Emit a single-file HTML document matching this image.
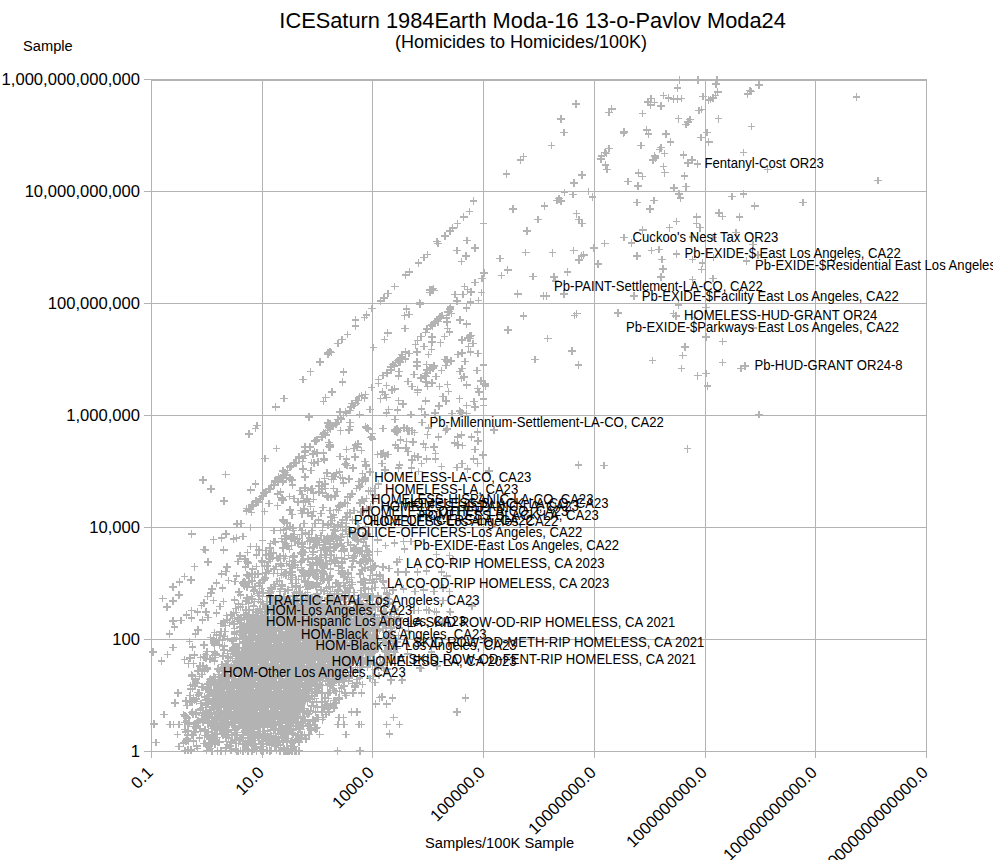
<!DOCTYPE html>
<html><head><meta charset="utf-8"><style>
html,body{margin:0;padding:0;background:#fff;overflow:hidden}
svg{display:block;font-family:"Liberation Sans",sans-serif}
</style></head><body>
<svg width="993" height="860" viewBox="0 0 993 860">
<rect width="993" height="860" fill="#fff"/>
<rect x="151" y="79" width="1" height="679" fill="#b3b3b3"/><rect x="262" y="79" width="1" height="679" fill="#b3b3b3"/><rect x="372" y="79" width="1" height="679" fill="#b3b3b3"/><rect x="483" y="79" width="1" height="679" fill="#b3b3b3"/><rect x="594" y="79" width="1" height="679" fill="#b3b3b3"/><rect x="705" y="79" width="1" height="679" fill="#b3b3b3"/><rect x="815" y="79" width="1" height="679" fill="#b3b3b3"/><rect x="926" y="79" width="1" height="679" fill="#b3b3b3"/><rect x="144" y="79" width="783" height="1" fill="#b3b3b3"/><rect x="144" y="191" width="783" height="1" fill="#b3b3b3"/><rect x="144" y="303" width="783" height="1" fill="#b3b3b3"/><rect x="144" y="415" width="783" height="1" fill="#b3b3b3"/><rect x="144" y="527" width="783" height="1" fill="#b3b3b3"/><rect x="144" y="639" width="783" height="1" fill="#b3b3b3"/><rect x="144" y="751" width="783" height="1" fill="#b3b3b3"/><rect x="151" y="79" width="776" height="2" fill="#b3b3b3"/>
<path d="M502.5 173.8h7.6M506.3 170.0v7.6M516.7 159.8h7.6M520.5 156.0v7.6M519.6 156.6h7.6M523.4 152.8v7.6M547.7 145.3h7.6M551.5 141.5v7.6M572.0 104.2h7.6M575.8 100.4v7.6M557.2 119.0h7.6M561.0 115.2v7.6M560.4 132.4h7.6M564.2 128.6v7.6M578.4 174.8h7.6M582.2 171.0v7.6M570.0 183.2h7.6M573.8 179.4v7.6M675.9 79.7h7.6M679.7 75.9v7.6M694.4 79.7h7.6M698.2 75.9v7.6M673.5 88.1h7.6M677.3 84.3v7.6M647.4 98.6h7.6M651.2 94.8v7.6M644.2 101.8h7.6M648.0 98.0v7.6M650.6 102.3h7.6M654.4 98.5v7.6M646.9 105.0h7.6M650.7 101.2v7.6M659.8 95.4h7.6M663.6 91.6v7.6M664.6 97.8h7.6M668.4 94.0v7.6M669.5 99.1h7.6M673.3 95.3v7.6M677.5 98.6h7.6M681.3 94.8v7.6M673.5 99.1h7.6M677.3 95.3v7.6M657.4 105.8h7.6M661.2 102.0v7.6M699.3 96.5h7.6M703.1 92.7v7.6M704.9 100.2h7.6M708.7 96.4v7.6M697.7 109.4h7.6M701.5 105.6v7.6M695.2 110.3h7.6M699.0 106.5v7.6M607.9 109.1h7.6M611.7 105.3v7.6M605.0 112.6h7.6M608.8 108.8v7.6M638.8 113.6h7.6M642.6 109.8v7.6M674.6 118.7h7.6M678.4 114.9v7.6M686.4 119.5h7.6M690.2 115.7v7.6M684.0 121.9h7.6M687.8 118.1v7.6M682.4 124.4h7.6M686.2 120.6v7.6M620.3 131.9h7.6M624.1 128.1v7.6M619.5 133.2h7.6M623.3 129.4v7.6M642.9 130.0h7.6M646.7 126.2v7.6M644.5 134.0h7.6M648.3 130.2v7.6M662.2 134.0h7.6M666.0 130.2v7.6M666.7 142.1h7.6M670.5 138.3v7.6M697.3 137.3h7.6M701.1 133.5v7.6M703.3 132.4h7.6M707.1 128.6v7.6M704.9 142.1h7.6M708.7 138.3v7.6M637.2 145.3h7.6M641.0 141.5v7.6M657.4 147.7h7.6M661.2 143.9v7.6M655.8 149.3h7.6M659.6 145.5v7.6M660.6 153.4h7.6M664.4 149.6v7.6M650.9 155.8h7.6M654.7 152.0v7.6M649.3 159.8h7.6M653.1 156.0v7.6M651.7 158.2h7.6M655.5 154.4v7.6M679.6 155.0h7.6M683.4 151.2v7.6M605.0 148.5h7.6M608.8 144.7v7.6M601.0 152.6h7.6M604.8 148.8v7.6M597.8 155.8h7.6M601.6 152.0v7.6M597.0 159.0h7.6M600.8 155.2v7.6M602.6 153.4h7.6M606.4 149.6v7.6M601.8 165.1h7.6M605.6 161.3v7.6M603.4 169.5h7.6M607.2 165.7v7.6M688.0 159.8h7.6M691.8 156.0v7.6M684.0 163.0h7.6M687.8 159.2v7.6M693.6 164.2h7.6M697.4 160.4v7.6M659.8 166.3h7.6M663.6 162.5v7.6M660.9 172.7h7.6M664.7 168.9v7.6M634.8 173.2h7.6M638.6 169.4v7.6M638.8 176.4h7.6M642.6 172.6v7.6M624.3 181.6h7.6M628.1 177.8v7.6M634.0 186.1h7.6M637.8 182.3v7.6M680.7 175.9h7.6M684.5 172.1v7.6M670.3 188.0h7.6M674.1 184.2v7.6M682.4 186.7h7.6M686.2 182.9v7.6M713.1 79.3h7.6M716.9 75.5v7.6M712.3 84.1h7.6M716.1 80.3v7.6M713.9 92.1h7.6M717.7 88.3v7.6M711.5 95.4h7.6M715.3 91.6v7.6M709.1 97.8h7.6M712.9 94.0v7.6M706.7 99.4h7.6M710.5 95.6v7.6M746.1 90.5h7.6M749.9 86.7v7.6M743.7 93.8h7.6M747.5 90.0v7.6M747.8 91.3h7.6M751.6 87.5v7.6M755.0 84.9h7.6M758.8 81.1v7.6M714.7 118.7h7.6M718.5 114.9v7.6M747.8 126.5h7.6M751.6 122.7v7.6M739.7 152.6h7.6M743.5 148.8v7.6M763.9 169.5h7.6M767.7 165.7v7.6M852.5 97.0h7.6M856.3 93.2v7.6M874.3 180.3h7.6M878.1 176.5v7.6M448.9 228.2h7.6M452.7 224.4v7.6M446.0 230.9h7.6M449.8 227.1v7.6M441.2 236.2h7.6M445.0 232.4v7.6M433.2 241.4h7.6M437.0 237.6v7.6M434.0 243.3h7.6M437.8 239.5v7.6M423.5 254.3h7.6M427.3 250.5v7.6M420.3 257.5h7.6M424.1 253.7v7.6M414.6 263.1h7.6M418.4 259.3v7.6M405.8 272.0h7.6M409.6 268.2v7.6M401.7 275.2h7.6M405.5 271.4v7.6M390.9 286.5h7.6M394.7 282.7v7.6M384.0 293.3h7.6M387.8 289.5v7.6M380.0 297.8h7.6M383.8 294.0v7.6M428.3 289.7h7.6M432.1 285.9v7.6M426.4 292.6h7.6M430.2 288.8v7.6M450.9 294.6h7.6M454.7 290.8v7.6M560.6 192.3h7.6M564.4 188.5v7.6M569.0 194.3h7.6M572.8 190.5v7.6M584.8 191.4h7.6M588.6 187.6v7.6M588.8 197.1h7.6M592.6 193.3v7.6M555.0 198.7h7.6M558.8 194.9v7.6M553.4 200.3h7.6M557.2 196.5v7.6M557.4 200.8h7.6M561.2 197.0v7.6M469.6 200.8h7.6M473.4 197.0v7.6M465.5 211.6h7.6M469.3 207.8v7.6M459.9 217.2h7.6M463.7 213.4v7.6M453.5 223.7h7.6M457.3 219.9v7.6M479.7 223.7h7.6M483.5 219.9v7.6M509.0 209.2h7.6M512.8 205.4v7.6M540.5 205.9h7.6M544.3 202.1v7.6M534.0 219.6h7.6M537.8 215.8v7.6M523.2 230.9h7.6M527.0 227.1v7.6M572.7 213.7h7.6M576.5 209.9v7.6M575.1 219.6h7.6M578.9 215.8v7.6M578.3 223.3h7.6M582.1 219.5v7.6M463.1 240.6h7.6M466.9 236.8v7.6M471.2 247.8h7.6M475.0 244.0v7.6M453.0 250.3h7.6M456.8 246.5v7.6M462.3 255.9h7.6M466.1 252.1v7.6M457.5 261.5h7.6M461.3 257.7v7.6M496.1 258.3h7.6M499.9 254.5v7.6M521.9 252.4h7.6M525.7 248.6v7.6M548.5 252.7h7.6M552.3 248.9v7.6M569.9 250.3h7.6M573.7 246.5v7.6M577.5 255.9h7.6M581.3 252.1v7.6M575.1 259.9h7.6M578.9 256.1v7.6M579.9 255.1h7.6M583.7 251.3v7.6M590.4 247.8h7.6M594.2 244.0v7.6M600.9 243.3h7.6M604.7 239.5v7.6M594.4 264.0h7.6M598.2 260.2v7.6M480.0 272.8h7.6M483.8 269.0v7.6M478.4 278.5h7.6M482.2 274.7v7.6M497.8 275.6h7.6M501.6 271.8v7.6M503.9 270.1h7.6M507.7 266.3v7.6M529.2 276.5h7.6M533.0 272.7v7.6M550.1 276.8h7.6M553.9 273.0v7.6M551.7 280.9h7.6M555.5 277.1v7.6M563.5 272.0h7.6M567.3 268.2v7.6M471.2 282.5h7.6M475.0 278.7v7.6M460.7 286.5h7.6M464.5 282.7v7.6M463.9 289.7h7.6M467.7 285.9v7.6M459.1 294.6h7.6M462.9 290.8v7.6M467.1 292.2h7.6M470.9 288.4v7.6M477.6 292.6h7.6M481.4 288.8v7.6M451.8 294.6h7.6M455.6 290.8v7.6M513.9 294.2h7.6M517.7 290.4v7.6M539.7 296.2h7.6M543.5 292.4v7.6M542.6 296.2h7.6M546.4 292.4v7.6M560.3 293.8h7.6M564.1 290.0v7.6M675.2 193.9h7.6M679.0 190.1v7.6M676.8 197.9h7.6M680.6 194.1v7.6M728.3 196.3h7.6M732.1 192.5v7.6M739.6 193.9h7.6M743.4 190.1v7.6M633.3 202.4h7.6M637.1 198.6v7.6M650.2 200.3h7.6M654.0 196.5v7.6M646.1 209.2h7.6M649.9 205.4v7.6M750.9 205.9h7.6M754.7 202.1v7.6M715.4 213.2h7.6M719.2 209.4v7.6M718.7 216.4h7.6M722.5 212.6v7.6M735.6 216.9h7.6M739.4 213.1v7.6M692.9 217.2h7.6M696.7 213.4v7.6M692.6 223.7h7.6M696.4 219.9v7.6M696.1 227.7h7.6M699.9 223.9v7.6M672.7 221.3h7.6M676.5 217.5v7.6M665.5 227.7h7.6M669.3 223.9v7.6M638.9 230.1h7.6M642.7 226.3v7.6M620.4 237.4h7.6M624.2 233.6v7.6M627.6 243.0h7.6M631.4 239.2v7.6M732.4 232.5h7.6M736.2 228.7v7.6M647.8 250.3h7.6M651.6 246.5v7.6M655.0 249.5h7.6M658.8 245.7v7.6M633.3 255.9h7.6M637.1 252.1v7.6M658.2 259.4h7.6M662.0 255.6v7.6M672.7 254.0h7.6M676.5 250.2v7.6M688.8 259.4h7.6M692.6 255.6v7.6M698.5 263.1h7.6M702.3 259.3v7.6M697.7 269.6h7.6M701.5 265.8v7.6M742.8 261.1h7.6M746.6 257.3v7.6M749.3 244.6h7.6M753.1 240.8v7.6M659.0 268.8h7.6M662.8 265.0v7.6M657.4 276.8h7.6M661.2 273.0v7.6M709.0 278.5h7.6M712.8 274.7v7.6M688.8 279.3h7.6M692.6 275.5v7.6M630.0 296.2h7.6M633.8 292.4v7.6M688.8 236.8h7.6M692.6 233.0v7.6M709.3 237.4h7.6M713.1 233.6v7.6M709.9 257.3h7.6M713.7 253.5v7.6M754.0 254.9h7.6M757.8 251.1v7.6M799.1 202.4h7.6M802.9 198.6v7.6M351.7 320.1h7.6M355.5 316.3v7.6M351.7 325.8h7.6M355.5 322.0v7.6M343.6 334.6h7.6M347.4 330.8v7.6M338.0 339.5h7.6M341.8 335.7v7.6M334.0 343.5h7.6M337.8 339.7v7.6M326.7 351.6h7.6M330.5 347.8v7.6M324.3 354.0h7.6M328.1 350.2v7.6M316.2 362.0h7.6M320.0 358.2v7.6M306.6 371.7h7.6M310.4 367.9v7.6M299.3 379.3h7.6M303.1 375.5v7.6M280.3 398.3h7.6M284.1 394.5v7.6M271.9 407.2h7.6M275.7 403.4v7.6M339.6 372.2h7.6M343.4 368.4v7.6M338.8 381.9h7.6M342.6 378.1v7.6M328.3 392.2h7.6M332.1 388.4v7.6M321.9 397.5h7.6M325.7 393.7v7.6M319.5 401.5h7.6M323.3 397.7v7.6M354.1 400.7h7.6M357.9 396.9v7.6M350.1 405.5h7.6M353.9 401.7v7.6M346.0 410.4h7.6M349.8 406.6v7.6M336.4 412.0h7.6M340.2 408.2v7.6M342.8 413.6h7.6M346.6 409.8v7.6M376.7 301.2h7.6M380.5 297.4v7.6M415.9 303.2h7.6M419.7 299.4v7.6M368.0 308.5h7.6M371.8 304.7v7.6M362.7 314.9h7.6M366.5 311.1v7.6M360.7 317.3h7.6M364.5 313.5v7.6M402.6 308.9h7.6M406.4 305.1v7.6M405.0 314.5h7.6M408.8 310.7v7.6M400.6 315.7h7.6M404.4 311.9v7.6M401.4 328.5h7.6M405.2 324.7v7.6M383.9 332.8h7.6M387.7 329.0v7.6M380.7 339.5h7.6M384.5 335.7v7.6M369.6 347.5h7.6M373.4 343.7v7.6M423.5 328.6h7.6M427.3 324.8v7.6M421.9 332.6h7.6M425.7 328.8v7.6M417.1 336.7h7.6M420.9 332.9v7.6M413.5 340.7h7.6M417.3 336.9v7.6M411.5 344.7h7.6M415.3 340.9v7.6M420.3 346.3h7.6M424.1 342.5v7.6M413.1 352.0h7.6M416.9 348.2v7.6M405.0 353.4h7.6M408.8 349.6v7.6M424.7 354.4h7.6M428.5 350.6v7.6M398.6 356.8h7.6M402.4 353.0v7.6M453.2 301.2h7.6M457.0 297.4v7.6M466.5 302.0h7.6M470.3 298.2v7.6M474.5 300.4h7.6M478.3 296.6v7.6M446.7 306.9h7.6M450.5 303.1v7.6M445.1 311.7h7.6M448.9 307.9v7.6M447.5 313.3h7.6M451.3 309.5v7.6M462.5 308.1h7.6M466.3 304.3v7.6M438.3 315.3h7.6M442.1 311.5v7.6M433.5 320.2h7.6M437.3 316.4v7.6M431.0 323.0h7.6M434.8 319.2v7.6M428.6 325.8h7.6M432.4 322.0v7.6M443.1 321.8h7.6M446.9 318.0v7.6M442.7 318.1h7.6M446.5 314.3v7.6M456.0 319.8h7.6M459.8 316.0v7.6M462.9 324.2h7.6M466.7 320.4v7.6M443.5 328.6h7.6M447.3 324.8v7.6M445.5 331.8h7.6M449.3 328.0v7.6M440.7 336.5h7.6M444.5 332.7v7.6M428.2 337.1h7.6M432.0 333.3v7.6M428.2 341.9h7.6M432.0 338.1v7.6M436.7 342.7h7.6M440.5 338.9v7.6M427.8 349.6h7.6M431.6 345.8v7.6M458.4 339.9h7.6M462.2 336.1v7.6M466.1 335.9h7.6M469.9 332.1v7.6M469.3 343.5h7.6M473.1 339.7v7.6M464.9 346.7h7.6M468.7 342.9v7.6M458.0 352.8h7.6M461.8 349.0v7.6M454.0 354.4h7.6M457.8 350.6v7.6M466.5 352.0h7.6M470.3 348.2v7.6M474.1 353.6h7.6M477.9 349.8v7.6M504.3 330.2h7.6M508.1 326.4v7.6M401.8 359.2h7.6M405.6 355.4v7.6M396.1 362.0h7.6M399.9 358.2v7.6M390.5 366.1h7.6M394.3 362.3v7.6M387.3 370.1h7.6M391.1 366.3v7.6M383.3 372.9h7.6M387.1 369.1v7.6M379.2 375.3h7.6M383.0 371.5v7.6M374.8 379.3h7.6M378.6 375.5v7.6M374.8 383.4h7.6M378.6 379.6v7.6M367.5 387.4h7.6M371.3 383.6v7.6M361.5 394.3h7.6M365.3 390.5v7.6M360.7 397.9h7.6M364.5 394.1v7.6M395.3 371.7h7.6M399.1 367.9v7.6M394.5 376.1h7.6M398.3 372.3v7.6M404.2 381.4h7.6M408.0 377.6v7.6M408.2 386.6h7.6M412.0 382.8v7.6M413.9 390.2h7.6M417.7 386.4v7.6M413.5 392.6h7.6M417.3 388.8v7.6M410.2 374.5h7.6M414.0 370.7v7.6M417.1 378.1h7.6M420.9 374.3v7.6M413.1 362.0h7.6M416.9 358.2v7.6M413.1 366.1h7.6M416.9 362.3v7.6M422.7 364.4h7.6M426.5 360.6v7.6M423.1 370.1h7.6M426.9 366.3v7.6M422.7 376.5h7.6M426.5 372.7v7.6M422.3 382.2h7.6M426.1 378.4v7.6M423.9 386.6h7.6M427.7 382.8v7.6M382.5 385.4h7.6M386.3 381.6v7.6M378.8 392.2h7.6M382.6 388.4v7.6M381.2 394.7h7.6M385.0 390.9v7.6M376.8 398.7h7.6M380.6 394.9v7.6M382.9 397.5h7.6M386.7 393.7v7.6M388.1 390.2h7.6M391.9 386.4v7.6M390.9 389.0h7.6M394.7 385.2v7.6M394.9 400.7h7.6M398.7 396.9v7.6M399.0 403.9h7.6M402.8 400.1v7.6M366.3 409.6h7.6M370.1 405.8v7.6M384.9 409.6h7.6M388.7 405.8v7.6M382.5 412.8h7.6M386.3 409.0v7.6M393.7 410.0h7.6M397.5 406.2v7.6M417.5 409.2h7.6M421.3 405.4v7.6M421.9 401.1h7.6M425.7 397.3v7.6M355.9 414.4h7.6M359.7 410.6v7.6M407.0 414.4h7.6M410.8 410.6v7.6M421.1 414.4h7.6M424.9 410.6v7.6M443.5 362.0h7.6M447.3 358.2v7.6M447.1 361.2h7.6M450.9 357.4v7.6M442.3 365.3h7.6M446.1 361.5v7.6M461.2 361.6h7.6M465.0 357.8v7.6M479.8 364.8h7.6M483.6 361.0v7.6M430.2 366.1h7.6M434.0 362.3v7.6M437.5 370.5h7.6M441.3 366.7v7.6M432.2 376.5h7.6M436.0 372.7v7.6M456.4 371.3h7.6M460.2 367.5v7.6M458.4 368.5h7.6M462.2 364.7v7.6M460.0 376.9h7.6M463.8 373.1v7.6M457.6 378.5h7.6M461.4 374.7v7.6M473.3 370.5h7.6M477.1 366.7v7.6M428.2 383.0h7.6M432.0 379.2v7.6M462.9 385.0h7.6M466.7 381.2v7.6M477.4 381.0h7.6M481.2 377.2v7.6M481.8 385.8h7.6M485.6 382.0v7.6M473.7 388.6h7.6M477.5 384.8v7.6M475.3 391.8h7.6M479.1 388.0v7.6M435.5 386.6h7.6M439.3 382.8v7.6M443.5 384.6h7.6M447.3 380.8v7.6M444.7 391.4h7.6M448.5 387.6v7.6M439.1 396.3h7.6M442.9 392.5v7.6M442.3 401.1h7.6M446.1 397.3v7.6M455.6 398.7h7.6M459.4 394.9v7.6M470.1 401.5h7.6M473.9 397.7v7.6M471.3 407.1h7.6M475.1 403.3v7.6M479.8 399.1h7.6M483.6 395.3v7.6M479.8 405.5h7.6M483.6 401.7v7.6M462.9 405.5h7.6M466.7 401.7v7.6M435.1 405.9h7.6M438.9 402.1v7.6M431.4 413.2h7.6M435.2 409.4v7.6M448.0 413.6h7.6M451.8 409.8v7.6M458.4 412.8h7.6M462.2 409.0v7.6M462.9 413.6h7.6M466.7 409.8v7.6M519.7 315.8h7.6M523.5 312.0v7.6M543.9 338.3h7.6M547.7 334.5v7.6M570.5 315.3h7.6M574.3 311.5v7.6M572.9 313.7h7.6M576.7 309.9v7.6M568.1 351.2h7.6M571.9 347.4v7.6M531.0 359.6h7.6M534.8 355.8v7.6M574.5 364.8h7.6M578.3 361.0v7.6M614.0 313.2h7.6M617.8 309.4v7.6M648.6 360.4h7.6M652.4 356.6v7.6M674.6 304.8h7.6M678.4 301.0v7.6M702.0 307.3h7.6M705.8 303.5v7.6M669.7 313.7h7.6M673.5 309.9v7.6M672.1 316.1h7.6M675.9 312.3v7.6M690.7 317.7h7.6M694.5 313.9v7.6M749.5 328.2h7.6M753.3 324.4v7.6M702.0 337.1h7.6M705.8 333.3v7.6M718.9 341.6h7.6M722.7 337.8v7.6M681.0 347.0h7.6M684.8 343.2v7.6M678.9 355.6h7.6M682.7 351.8v7.6M718.6 362.5h7.6M722.4 358.7v7.6M677.8 368.5h7.6M681.6 364.7v7.6M693.9 375.7h7.6M697.7 371.9v7.6M702.4 373.3h7.6M706.2 369.5v7.6M703.6 386.2h7.6M707.4 382.4v7.6M741.4 366.1h7.6M745.2 362.3v7.6M737.4 368.5h7.6M741.2 364.7v7.6M755.1 414.4h7.6M758.9 410.6v7.6M683.7 448.7h7.6M687.5 444.9v7.6M490.4 430.1h7.6M494.2 426.3v7.6M479.4 455.1h7.6M483.2 451.3v7.6M485.1 470.9h7.6M488.9 467.1v7.6M574.5 464.8h7.6M578.3 461.0v7.6M600.3 465.6h7.6M604.1 461.8v7.6M253.4 425.3h7.6M257.2 421.5v7.6M251.7 428.5h7.6M255.5 424.7v7.6M245.3 433.8h7.6M249.1 430.0v7.6M272.7 448.3h7.6M276.5 444.5v7.6M261.4 458.3h7.6M265.2 454.5v7.6M221.9 474.5h7.6M225.7 470.7v7.6M199.4 480.1h7.6M203.2 476.3v7.6M207.4 489.0h7.6M211.2 485.2v7.6M220.3 501.0h7.6M224.1 497.2v7.6M251.7 484.1h7.6M255.5 480.3v7.6M246.9 489.8h7.6M250.7 486.0v7.6M292.0 463.2h7.6M295.8 459.4v7.6M286.4 467.2h7.6M290.2 463.4v7.6M279.1 471.2h7.6M282.9 467.4v7.6M282.4 474.5h7.6M286.2 470.7v7.6M288.0 480.1h7.6M291.8 476.3v7.6M288.8 484.9h7.6M292.6 481.1v7.6M276.7 477.7h7.6M280.5 473.9v7.6M274.3 481.7h7.6M278.1 477.9v7.6M270.3 484.9h7.6M274.1 481.1v7.6M266.2 489.0h7.6M270.0 485.2v7.6M262.2 492.2h7.6M266.0 488.4v7.6M259.0 496.2h7.6M262.8 492.4v7.6M276.7 492.2h7.6M280.5 488.4v7.6M273.5 493.8h7.6M277.3 490.0v7.6M265.4 503.5h7.6M269.2 499.7v7.6M279.1 500.2h7.6M282.9 496.4v7.6M254.2 501.8h7.6M258.0 498.0v7.6M249.3 505.9h7.6M253.1 502.1v7.6M246.1 509.1h7.6M249.9 505.3v7.6M242.9 508.3h7.6M246.7 504.5v7.6M247.7 512.3h7.6M251.5 508.5v7.6M260.6 511.5h7.6M264.4 507.7v7.6M290.4 498.6h7.6M294.2 494.8v7.6M294.4 501.8h7.6M298.2 498.0v7.6M286.4 509.9h7.6M290.2 506.1v7.6M288.0 514.7h7.6M291.8 510.9v7.6M279.9 521.2h7.6M283.7 517.4v7.6M283.2 522.8h7.6M287.0 519.0v7.6M233.2 524.1h7.6M237.0 520.3v7.6M237.2 523.6h7.6M241.0 519.8v7.6M305.1 417.0h7.6M308.9 413.2v7.6M336.5 418.2h7.6M340.3 414.4v7.6M333.3 422.3h7.6M337.1 418.5v7.6M329.2 425.5h7.6M333.0 421.7v7.6M326.0 423.9h7.6M329.8 420.1v7.6M326.0 428.3h7.6M329.8 424.5v7.6M320.4 434.3h7.6M324.2 430.5v7.6M318.0 436.8h7.6M321.8 433.0v7.6M346.1 422.3h7.6M349.9 418.5v7.6M346.6 426.3h7.6M350.4 422.5v7.6M345.3 429.9h7.6M349.1 426.1v7.6M336.5 430.7h7.6M340.3 426.9v7.6M361.5 427.1h7.6M365.3 423.3v7.6M364.7 429.1h7.6M368.5 425.3v7.6M368.7 433.5h7.6M372.5 429.7v7.6M367.1 437.6h7.6M370.9 433.8v7.6M310.7 440.8h7.6M314.5 437.0v7.6M312.3 441.2h7.6M316.1 437.4v7.6M325.2 442.4h7.6M329.0 438.6v7.6M326.4 447.2h7.6M330.2 443.4v7.6M310.7 451.3h7.6M314.5 447.5v7.6M301.0 447.2h7.6M304.8 443.4v7.6M301.8 450.4h7.6M305.6 446.6v7.6M301.0 455.3h7.6M304.8 451.5v7.6M299.0 458.5h7.6M302.8 454.7v7.6M313.1 452.9h7.6M316.9 449.1v7.6M319.6 452.9h7.6M323.4 449.1v7.6M314.3 461.7h7.6M318.1 457.9v7.6M307.5 462.5h7.6M311.3 458.7v7.6M299.4 469.0h7.6M303.2 465.2v7.6M342.5 449.6h7.6M346.3 445.8v7.6M351.8 445.2h7.6M355.6 441.4v7.6M354.2 444.0h7.6M358.0 440.2v7.6M357.8 450.4h7.6M361.6 446.6v7.6M351.4 456.9h7.6M355.2 453.1v7.6M342.1 463.3h7.6M345.9 459.5v7.6M349.0 467.8h7.6M352.8 464.0v7.6M361.1 461.3h7.6M364.9 457.5v7.6M373.5 454.5h7.6M377.3 450.7v7.6M323.2 473.0h7.6M327.0 469.2v7.6M332.5 473.0h7.6M336.3 469.2v7.6M335.7 472.2h7.6M339.5 468.4v7.6M391.1 419.4h7.6M394.9 415.6v7.6M418.1 422.3h7.6M421.9 418.5v7.6M424.5 427.9h7.6M428.3 424.1v7.6M379.4 428.3h7.6M383.2 424.5v7.6M391.9 430.3h7.6M395.7 426.5v7.6M400.4 427.9h7.6M404.2 424.1v7.6M408.4 430.7h7.6M412.2 426.9v7.6M410.8 432.3h7.6M414.6 428.5v7.6M423.7 434.7h7.6M427.5 430.9v7.6M434.6 436.8h7.6M438.4 433.0v7.6M441.5 430.7h7.6M445.3 426.9v7.6M443.1 429.1h7.6M446.9 425.3v7.6M453.9 436.8h7.6M457.7 433.0v7.6M454.3 444.8h7.6M458.1 441.0v7.6M450.7 443.2h7.6M454.5 439.4v7.6M396.7 440.0h7.6M400.5 436.2v7.6M402.8 441.6h7.6M406.6 437.8v7.6M409.2 442.0h7.6M413.0 438.2v7.6M391.5 444.8h7.6M395.3 441.0v7.6M394.3 448.0h7.6M398.1 444.2v7.6M402.0 448.0h7.6M405.8 444.2v7.6M404.0 451.7h7.6M407.8 447.9v7.6M419.7 444.0h7.6M423.5 440.2v7.6M421.7 447.6h7.6M425.5 443.8v7.6M430.2 447.2h7.6M434.0 443.4v7.6M431.8 453.7h7.6M435.6 449.9v7.6M431.8 458.9h7.6M435.6 455.1v7.6M384.3 454.5h7.6M388.1 450.7v7.6M381.0 456.1h7.6M384.8 452.3v7.6M378.2 463.3h7.6M382.0 459.5v7.6M377.0 453.7h7.6M380.8 449.9v7.6M410.8 456.1h7.6M414.6 452.3v7.6M408.4 460.1h7.6M412.2 456.3v7.6M414.1 456.9h7.6M417.9 453.1v7.6M417.7 463.3h7.6M421.5 459.5v7.6M422.9 458.9h7.6M426.7 455.1v7.6M395.5 464.9h7.6M399.3 461.1v7.6M394.7 468.2h7.6M398.5 464.4v7.6M407.6 468.2h7.6M411.4 464.4v7.6M437.8 466.6h7.6M441.6 462.8v7.6M453.1 467.4h7.6M456.9 463.6v7.6M381.0 469.8h7.6M384.8 466.0v7.6M414.9 471.4h7.6M418.7 467.6v7.6M473.5 431.9h7.6M477.3 428.1v7.6M467.5 437.2h7.6M471.3 433.4v7.6M474.3 440.8h7.6M478.1 437.0v7.6M457.8 435.1h7.6M461.6 431.3v7.6M458.6 445.6h7.6M462.4 441.8v7.6M471.1 449.6h7.6M474.9 445.8v7.6M469.9 458.9h7.6M473.7 455.1v7.6M473.9 463.3h7.6M477.7 459.5v7.6M458.2 463.7h7.6M462.0 459.9v7.6M463.5 469.0h7.6M467.3 465.2v7.6M246.5 527.6h7.6M250.3 523.8v7.6M187.9 534.2h7.6M191.7 530.4v7.6M209.6 539.7h7.6M213.4 535.9v7.6M217.5 537.8h7.6M221.3 534.0v7.6M222.3 534.2h7.6M226.1 530.4v7.6M232.6 537.8h7.6M236.4 534.0v7.6M239.3 536.6h7.6M243.1 532.8v7.6M229.6 539.0h7.6M233.4 535.2v7.6M201.8 549.9h7.6M205.6 546.1v7.6M219.9 549.9h7.6M223.7 546.1v7.6M204.2 562.0h7.6M208.0 558.2v7.6M246.5 546.3h7.6M250.3 542.5v7.6M252.5 546.3h7.6M256.3 542.5v7.6M255.0 549.9h7.6M258.8 546.1v7.6M258.6 540.3h7.6M262.4 536.5v7.6M252.5 554.8h7.6M256.3 551.0v7.6M243.5 552.3h7.6M247.3 548.5v7.6M236.2 556.0h7.6M240.0 552.2v7.6M234.4 561.4h7.6M238.2 557.6v7.6M242.9 561.4h7.6M246.7 557.6v7.6M262.2 554.8h7.6M266.0 551.0v7.6M258.6 562.0h7.6M262.4 558.2v7.6M338.7 478.2h7.6M342.5 474.4v7.6M328.2 476.6h7.6M332.0 472.8v7.6M329.8 479.4h7.6M333.6 475.6v7.6M321.0 483.9h7.6M324.8 480.1v7.6M317.8 489.1h7.6M321.6 485.3v7.6M321.8 488.3h7.6M325.6 484.5v7.6M329.8 488.3h7.6M333.6 484.5v7.6M301.2 487.9h7.6M305.0 484.1v7.6M308.1 488.7h7.6M311.9 484.9v7.6M309.7 493.1h7.6M313.5 489.3v7.6M298.4 494.3h7.6M302.2 490.5v7.6M324.2 496.8h7.6M328.0 493.0v7.6M327.4 497.6h7.6M331.2 493.8v7.6M331.5 496.3h7.6M335.3 492.5v7.6M343.9 496.8h7.6M347.7 493.0v7.6M303.3 499.2h7.6M307.1 495.4v7.6M309.7 499.6h7.6M313.5 495.8v7.6M301.6 502.4h7.6M305.4 498.6v7.6M341.1 503.2h7.6M344.9 499.4v7.6M335.5 507.2h7.6M339.3 503.4v7.6M334.7 510.4h7.6M338.5 506.6v7.6M319.0 507.6h7.6M322.8 503.8v7.6M326.2 510.4h7.6M330.0 506.6v7.6M296.8 510.4h7.6M300.6 506.6v7.6M304.1 512.9h7.6M307.9 509.1v7.6M309.7 511.3h7.6M313.5 507.5v7.6M298.4 513.7h7.6M302.2 509.9v7.6M308.1 516.1h7.6M311.9 512.3v7.6M327.4 516.9h7.6M331.2 513.1v7.6M330.7 517.7h7.6M334.5 513.9v7.6M343.5 512.9h7.6M347.3 509.1v7.6M343.5 516.9h7.6M347.3 513.1v7.6M300.0 523.3h7.6M303.8 519.5v7.6M311.3 523.3h7.6M315.1 519.5v7.6M319.4 523.3h7.6M323.2 519.5v7.6M324.2 524.9h7.6M328.0 521.1v7.6M338.7 520.1h7.6M342.5 516.3v7.6M342.7 523.3h7.6M346.5 519.5v7.6M270.2 530.6h7.6M274.0 526.8v7.6M276.7 530.6h7.6M280.5 526.8v7.6M289.6 530.6h7.6M293.4 526.8v7.6M298.4 530.6h7.6M302.2 526.8v7.6M308.1 530.6h7.6M311.9 526.8v7.6M318.6 530.6h7.6M322.4 526.8v7.6M330.7 530.6h7.6M334.5 526.8v7.6M338.7 530.6h7.6M342.5 526.8v7.6M314.5 520.1h7.6M318.3 516.3v7.6M371.3 488.7h7.6M375.1 484.9v7.6M360.8 501.6h7.6M364.6 497.8v7.6M366.5 507.2h7.6M370.3 503.4v7.6M371.3 495.1h7.6M375.1 491.3v7.6M348.8 520.1h7.6M352.6 516.3v7.6M354.4 523.3h7.6M358.2 519.5v7.6M200.3 549.3h7.6M204.1 545.5v7.6M190.5 566.7h7.6M194.3 562.9v7.6M180.7 576.3h7.6M184.5 572.5v7.6M187.1 579.9h7.6M190.9 576.1v7.6M175.8 582.0h7.6M179.6 578.2v7.6M169.4 587.2h7.6M173.2 583.4v7.6M217.7 574.3h7.6M221.5 570.5v7.6M212.5 583.6h7.6M216.3 579.8v7.6M218.5 588.0h7.6M222.3 584.2v7.6M208.1 588.8h7.6M211.9 585.0v7.6M175.0 594.8h7.6M178.8 591.0v7.6M158.9 598.5h7.6M162.7 594.7v7.6M169.4 600.9h7.6M173.2 597.1v7.6M163.4 606.9h7.6M167.2 603.1v7.6M207.3 592.8h7.6M211.1 589.0v7.6M203.6 596.4h7.6M207.4 592.6v7.6M209.7 600.5h7.6M213.5 596.7v7.6M197.6 605.3h7.6M201.4 601.5v7.6M200.0 602.9h7.6M203.8 599.1v7.6M187.9 610.5h7.6M191.7 606.7v7.6M182.7 615.0h7.6M186.5 611.2v7.6M187.5 617.8h7.6M191.3 614.0v7.6M193.6 611.8h7.6M197.4 608.0v7.6M202.4 612.2h7.6M206.2 608.4v7.6M204.0 617.4h7.6M207.8 613.6v7.6M198.8 620.2h7.6M202.6 616.4v7.6M216.1 606.5h7.6M219.9 602.7v7.6M212.5 613.0h7.6M216.3 609.2v7.6M219.7 601.3h7.6M223.5 597.5v7.6M219.7 621.8h7.6M223.5 618.0v7.6M169.4 621.0h7.6M173.2 617.2v7.6M177.1 620.6h7.6M180.9 616.8v7.6M170.6 627.1h7.6M174.4 623.3v7.6M165.8 633.9h7.6M169.6 630.1v7.6M194.0 629.9h7.6M197.8 626.1v7.6M191.6 633.9h7.6M195.4 630.1v7.6M210.9 632.3h7.6M214.7 628.5v7.6M206.5 637.5h7.6M210.3 633.7v7.6M209.7 638.3h7.6M213.5 634.5v7.6M218.5 639.9h7.6M222.3 636.1v7.6M185.5 641.6h7.6M189.3 637.8v7.6M188.7 647.2h7.6M192.5 643.4v7.6M200.4 644.8h7.6M204.2 641.0v7.6M210.5 644.8h7.6M214.3 641.0v7.6M218.5 646.4h7.6M222.3 642.6v7.6M169.0 647.6h7.6M172.8 643.8v7.6M149.3 652.0h7.6M153.1 648.2v7.6M163.8 654.4h7.6M167.6 650.6v7.6M157.7 660.9h7.6M161.5 657.1v7.6M180.7 659.7h7.6M184.5 655.9v7.6M186.3 658.1h7.6M190.1 654.3v7.6M189.5 663.7h7.6M193.3 659.9v7.6M184.7 663.7h7.6M188.5 659.9v7.6M190.7 654.8h7.6M194.5 651.0v7.6M196.8 657.3h7.6M200.6 653.5v7.6M187.9 675.0h7.6M191.7 671.2v7.6M191.1 686.3h7.6M194.9 682.5v7.6M188.7 684.6h7.6M192.5 680.8v7.6M174.2 693.1h7.6M178.0 689.3v7.6M186.3 695.5h7.6M190.1 691.7v7.6M194.4 692.7h7.6M198.2 688.9v7.6M189.5 697.5h7.6M193.3 693.7v7.6M171.0 702.8h7.6M174.8 699.0v7.6M182.3 700.8h7.6M186.1 697.0v7.6M183.1 705.6h7.6M186.9 701.8v7.6M196.8 708.8h7.6M200.6 705.0v7.6M160.1 714.3h7.6M163.9 710.5v7.6M179.9 714.3h7.6M183.7 710.5v7.6M182.7 717.1h7.6M186.5 713.3v7.6M150.1 723.9h7.6M153.9 720.1v7.6M166.2 724.3h7.6M170.0 720.5v7.6M169.8 724.3h7.6M173.6 720.5v7.6M175.0 724.3h7.6M178.8 720.5v7.6M183.9 724.3h7.6M187.7 720.5v7.6M189.9 724.3h7.6M193.7 720.5v7.6M173.8 734.4h7.6M177.6 730.6v7.6M183.9 734.8h7.6M187.7 731.0v7.6M189.1 734.8h7.6M192.9 731.0v7.6M189.5 740.9h7.6M193.3 737.1v7.6M183.1 738.8h7.6M186.9 735.0v7.6M179.9 742.9h7.6M183.7 739.1v7.6M152.1 742.5h7.6M155.9 738.7v7.6M175.0 746.5h7.6M178.8 742.7v7.6M181.1 750.5h7.6M184.9 746.7v7.6M344.5 681.2h7.6M348.3 677.4v7.6M351.0 686.8h7.6M354.8 683.0v7.6M330.0 690.5h7.6M333.8 686.7v7.6M335.7 691.7h7.6M339.5 687.9v7.6M342.1 695.3h7.6M345.9 691.5v7.6M349.4 692.9h7.6M353.2 689.1v7.6M357.8 692.9h7.6M361.6 689.1v7.6M330.0 700.5h7.6M333.8 696.7v7.6M326.8 703.8h7.6M330.6 700.0v7.6M320.4 707.4h7.6M324.2 703.6v7.6M318.0 685.6h7.6M321.8 681.8v7.6M347.8 711.8h7.6M351.6 708.0v7.6M353.0 712.2h7.6M356.8 708.4v7.6M335.3 717.5h7.6M339.1 713.7v7.6M339.7 717.5h7.6M343.5 713.7v7.6M334.1 724.3h7.6M337.9 720.5v7.6M340.1 724.3h7.6M343.9 720.5v7.6M313.1 717.5h7.6M316.9 713.7v7.6M319.6 717.5h7.6M323.4 713.7v7.6M355.4 724.3h7.6M359.2 720.5v7.6M357.8 724.3h7.6M361.6 720.5v7.6M312.3 728.7h7.6M316.1 724.9v7.6M305.1 734.4h7.6M308.9 730.6v7.6M315.9 734.4h7.6M319.7 730.6v7.6M342.1 734.4h7.6M345.9 730.6v7.6M371.1 682.4h7.6M374.9 678.6v7.6M371.9 704.2h7.6M375.7 700.4v7.6M375.6 697.7h7.6M379.4 693.9v7.6M430.9 611.4h7.6M434.7 607.6v7.6M446.2 611.4h7.6M450.0 607.6v7.6M422.9 609.8h7.6M426.7 606.0v7.6M468.0 605.8h7.6M471.8 602.0v7.6M416.4 667.8h7.6M420.2 664.0v7.6M398.7 679.9h7.6M402.5 676.1v7.6M386.6 680.7h7.6M390.4 676.9v7.6M439.0 588.1h7.6M442.8 584.3v7.6M410.0 610.6h7.6M413.8 606.8v7.6M276.2 751.0h7.6M280.0 747.2v7.6M280.2 751.0h7.6M284.0 747.2v7.6M284.2 751.0h7.6M288.0 747.2v7.6M288.2 751.0h7.6M292.0 747.2v7.6M292.2 751.0h7.6M296.0 747.2v7.6M295.2 751.0h7.6M299.0 747.2v7.6M242.5 511.1h7.6M246.3 507.3v7.6M245.3 508.8h7.6M249.1 505.0v7.6M248.3 505.0h7.6M252.1 501.2v7.6M249.1 504.5h7.6M252.9 500.7v7.6M252.1 500.5h7.6M255.9 496.7v7.6M256.4 498.7h7.6M260.2 494.9v7.6M258.4 496.3h7.6M262.2 492.5v7.6M260.3 493.0h7.6M264.1 489.2v7.6M262.7 492.4h7.6M266.5 488.6v7.6M264.8 489.6h7.6M268.6 485.8v7.6M267.5 485.4h7.6M271.3 481.6v7.6M270.1 484.3h7.6M273.9 480.5v7.6M271.3 480.4h7.6M275.1 476.6v7.6M275.2 479.2h7.6M279.0 475.4v7.6M277.2 477.8h7.6M281.0 474.0v7.6M279.6 475.4h7.6M283.4 471.6v7.6M281.1 472.7h7.6M284.9 468.9v7.6M283.7 470.6h7.6M287.5 466.8v7.6M287.2 466.0h7.6M291.0 462.2v7.6M313.3 439.3h7.6M317.1 435.5v7.6M317.9 437.4h7.6M321.7 433.6v7.6M319.4 434.6h7.6M323.2 430.8v7.6M321.6 432.3h7.6M325.4 428.5v7.6M323.6 430.4h7.6M327.4 426.6v7.6M326.7 428.8h7.6M330.5 425.0v7.6M329.4 426.4h7.6M333.2 422.6v7.6M332.3 424.1h7.6M336.1 420.3v7.6M334.3 419.5h7.6M338.1 415.7v7.6M337.2 419.1h7.6M341.0 415.3v7.6M339.8 415.6h7.6M343.6 411.8v7.6M341.8 412.2h7.6M345.6 408.4v7.6M347.1 407.2h7.6M350.9 403.4v7.6M348.0 403.5h7.6M351.8 399.7v7.6M351.9 403.5h7.6M355.7 399.7v7.6M352.3 400.6h7.6M356.1 396.8v7.6M355.6 396.5h7.6M359.4 392.7v7.6M357.7 395.7h7.6M361.5 391.9v7.6M387.2 366.8h7.6M391.0 363.0v7.6M389.0 364.3h7.6M392.8 360.5v7.6M391.8 362.6h7.6M395.6 358.8v7.6M394.7 361.7h7.6M398.5 357.9v7.6M396.2 359.3h7.6M400.0 355.5v7.6M398.2 354.4h7.6M402.0 350.6v7.6M401.5 351.8h7.6M405.3 348.0v7.6M423.4 328.8h7.6M427.2 325.0v7.6M426.9 325.7h7.6M430.7 321.9v7.6M427.8 325.2h7.6M431.6 321.4v7.6M430.9 323.0h7.6M434.7 319.2v7.6M434.8 319.1h7.6M438.6 315.3v7.6M436.1 317.1h7.6M439.9 313.3v7.6M290.2 463.0h7.6M294.0 459.2v7.6M295.2 458.0h7.6M299.0 454.2v7.6M301.2 452.0h7.6M305.0 448.2v7.6M306.2 447.0h7.6M310.0 443.2v7.6M361.6 479.4h7.6M365.4 475.6v7.6M358.4 481.4h7.6M362.2 477.6v7.6M355.2 485.5h7.6M359.0 481.7v7.6M352.8 488.3h7.6M356.6 484.5v7.6M348.0 493.9h7.6M351.8 490.1v7.6M345.5 496.8h7.6M349.3 493.0v7.6M374.5 483.9h7.6M378.3 480.1v7.6M371.3 488.7h7.6M375.1 484.9v7.6M366.5 491.1h7.6M370.3 487.3v7.6M362.5 498.4h7.6M366.3 494.6v7.6M358.4 500.0h7.6M362.2 496.2v7.6M356.0 503.2h7.6M359.8 499.4v7.6M350.4 510.4h7.6M354.2 506.6v7.6M346.3 512.9h7.6M350.1 509.1v7.6M342.3 516.9h7.6M346.1 513.1v7.6M338.3 522.5h7.6M342.1 518.7v7.6M334.3 524.9h7.6M338.1 521.1v7.6M336.7 505.6h7.6M340.5 501.8v7.6M332.6 509.6h7.6M336.4 505.8v7.6M331.0 495.9h7.6M334.8 492.1v7.6M369.7 501.6h7.6M373.5 497.8v7.6M362.5 508.8h7.6M366.3 505.0v7.6M330.2 529.8h7.6M334.0 526.0v7.6M336.7 526.6h7.6M340.5 522.8v7.6M342.3 531.4h7.6M346.1 527.6v7.6M373.9 540.2h7.6M377.7 536.4v7.6M381.5 545.3h7.6M385.3 541.5v7.6M390.5 542.8h7.6M394.3 539.0v7.6M399.5 541.5h7.6M403.3 537.7v7.6M407.1 541.5h7.6M410.9 537.7v7.6M373.9 551.7h7.6M377.7 547.9v7.6M400.7 549.2h7.6M404.5 545.4v7.6M395.6 559.4h7.6M399.4 555.6v7.6M393.1 562.0h7.6M396.9 558.2v7.6M432.7 554.3h7.6M436.5 550.5v7.6M445.5 555.6h7.6M449.3 551.8v7.6M449.3 559.4h7.6M453.1 555.6v7.6M371.3 565.8h7.6M375.1 562.0v7.6M379.0 567.1h7.6M382.8 563.3v7.6M385.4 568.4h7.6M389.2 564.6v7.6M394.3 572.2h7.6M398.1 568.4v7.6M402.0 572.2h7.6M405.8 568.4v7.6M413.5 572.2h7.6M417.3 568.4v7.6M422.5 570.9h7.6M426.3 567.1v7.6M437.8 572.2h7.6M441.6 568.4v7.6M442.9 576.0h7.6M446.7 572.2v7.6M372.6 574.8h7.6M376.4 571.0v7.6M379.0 581.2h7.6M382.8 577.4v7.6M371.3 587.6h7.6M375.1 583.8v7.6M389.2 590.1h7.6M393.0 586.3v7.6M399.5 588.8h7.6M403.3 585.0v7.6M411.0 591.4h7.6M414.8 587.6v7.6M419.9 590.1h7.6M423.7 586.3v7.6M430.2 591.4h7.6M434.0 587.6v7.6M445.5 591.4h7.6M449.3 587.6v7.6M439.1 600.3h7.6M442.9 596.5v7.6M468.5 605.5h7.6M472.3 601.7v7.6M414.8 610.6h7.6M418.6 606.8v7.6M425.0 610.6h7.6M428.8 606.8v7.6M432.7 611.9h7.6M436.5 608.1v7.6M446.8 611.9h7.6M450.6 608.1v7.6M368.8 619.5h7.6M372.6 615.7v7.6M381.5 617.0h7.6M385.3 613.2v7.6M407.1 623.4h7.6M410.9 619.6v7.6M439.1 622.1h7.6M442.9 618.3v7.6M404.6 631.0h7.6M408.4 627.2v7.6M417.8 668.6h7.6M421.6 664.8v7.6M387.1 679.8h7.6M390.9 676.0v7.6M398.3 680.5h7.6M402.1 676.7v7.6M378.1 697.2h7.6M381.9 693.4v7.6M388.5 697.9h7.6M392.3 694.1v7.6M371.8 704.2h7.6M375.6 700.4v7.6M382.9 704.2h7.6M386.7 700.4v7.6M389.9 717.4h7.6M393.7 713.6v7.6M382.9 724.4h7.6M386.7 720.6v7.6M395.5 724.4h7.6M399.3 720.6v7.6M385.7 734.2h7.6M389.5 730.4v7.6M461.8 697.9h7.6M465.6 694.1v7.6M453.4 711.9h7.6M457.2 708.1v7.6M391.3 652.6h7.6M395.1 648.8v7.6M403.9 654.0h7.6M407.7 650.2v7.6M427.6 651.9h7.6M431.4 648.1v7.6M433.2 665.8h7.6M437.0 662.0v7.6M208.2 751.5h7.6M212.0 747.7v7.6M213.6 751.0h7.6M217.4 747.2v7.6M217.2 751.0h7.6M221.0 747.2v7.6M221.9 751.0h7.6M225.7 747.2v7.6M227.2 750.5h7.6M231.0 746.7v7.6M232.5 751.0h7.6M236.3 747.2v7.6M234.1 751.5h7.6M237.9 747.7v7.6M236.8 750.5h7.6M240.6 746.7v7.6M239.3 751.0h7.6M243.1 747.2v7.6M243.7 751.0h7.6M247.5 747.2v7.6M248.4 751.0h7.6M252.2 747.2v7.6M252.7 751.0h7.6M256.5 747.2v7.6M257.8 751.0h7.6M261.6 747.2v7.6M259.9 751.0h7.6M263.7 747.2v7.6M263.3 750.5h7.6M267.1 746.7v7.6M267.0 750.5h7.6M270.8 746.7v7.6M272.5 750.5h7.6M276.3 746.7v7.6M276.9 750.5h7.6M280.7 746.7v7.6M280.2 751.0h7.6M284.0 747.2v7.6M282.2 751.0h7.6M286.0 747.2v7.6M285.1 751.5h7.6M288.9 747.7v7.6M290.7 751.5h7.6M294.5 747.7v7.6M292.4 751.0h7.6M296.2 747.2v7.6M295.5 751.5h7.6M299.3 747.7v7.6M415.5 303.2h7.6M419.3 299.4v7.6M416.2 304.0h7.6M420.0 300.2v7.6M416.0 303.9h7.6M419.8 300.1v7.6M426.2 289.9h7.6M430.0 286.1v7.6M429.9 290.6h7.6M433.7 286.8v7.6M429.7 288.5h7.6M433.5 284.7v7.6M443.1 359.6h7.6M446.9 355.8v7.6M443.4 360.9h7.6M447.2 357.1v7.6M441.3 359.5h7.6M445.1 355.7v7.6M444.3 311.9h7.6M448.1 308.1v7.6M446.3 308.8h7.6M450.1 305.0v7.6M446.4 308.8h7.6M450.2 305.0v7.6M423.6 373.2h7.6M427.4 369.4v7.6M421.1 376.2h7.6M424.9 372.4v7.6M421.9 373.6h7.6M425.7 369.8v7.6M429.0 368.1h7.6M432.8 364.3v7.6M426.3 368.4h7.6M430.1 364.6v7.6M427.3 367.3h7.6M431.1 363.5v7.6M464.2 338.2h7.6M468.0 334.4v7.6M466.2 338.3h7.6M470.0 334.5v7.6M467.0 335.6h7.6M470.8 331.8v7.6M456.7 411.6h7.6M460.5 407.8v7.6M455.9 411.2h7.6M459.7 407.4v7.6M456.5 413.3h7.6M460.3 409.5v7.6M324.4 353.2h7.6M328.2 349.4v7.6M325.8 351.7h7.6M329.6 347.9v7.6M327.7 352.4h7.6M331.5 348.6v7.6M394.2 360.5h7.6M398.0 356.7v7.6M395.7 358.8h7.6M399.5 355.0v7.6M396.8 358.7h7.6M400.6 354.9v7.6M434.2 321.7h7.6M438.0 317.9v7.6M431.3 321.5h7.6M435.1 317.7v7.6M432.7 320.6h7.6M436.5 316.8v7.6M324.4 423.2h7.6M328.2 419.4v7.6M325.1 426.8h7.6M328.9 423.0v7.6M325.2 426.0h7.6M329.0 422.2v7.6M321.9 434.8h7.6M325.7 431.0v7.6M319.6 432.4h7.6M323.4 428.6v7.6M320.3 434.1h7.6M324.1 430.3v7.6M391.3 430.0h7.6M395.1 426.2v7.6M394.1 430.4h7.6M397.9 426.6v7.6M391.0 430.8h7.6M394.8 427.0v7.6M403.4 428.4h7.6M407.2 424.6v7.6M405.4 430.7h7.6M409.2 426.9v7.6M404.4 430.7h7.6M408.2 426.9v7.6M481.7 383.9h7.6M485.5 380.1v7.6M480.8 383.4h7.6M484.6 379.6v7.6M479.8 383.3h7.6M483.6 379.5v7.6M241.2 558.8h7.6M245.0 555.0v7.6M244.1 562.9h7.6M247.9 559.1v7.6M241.6 566.9h7.6M245.4 563.1v7.6M223.1 566.9h7.6M226.9 563.1v7.6M222.3 571.7h7.6M226.1 567.9v7.6M217.9 574.1h7.6M221.7 570.3v7.6M232.8 575.8h7.6M236.6 572.0v7.6M243.3 574.9h7.6M247.1 571.1v7.6M248.1 573.3h7.6M251.9 569.5v7.6M212.6 583.0h7.6M216.4 579.2v7.6M224.7 580.6h7.6M228.5 576.8v7.6M231.2 581.4h7.6M235.0 577.6v7.6M240.0 581.4h7.6M243.8 577.6v7.6M326.1 444.9h7.6M329.9 441.1v7.6M324.9 446.7h7.6M328.7 442.9v7.6M350.1 448.5h7.6M353.9 444.7v7.6M353.3 447.0h7.6M357.1 443.2v7.6M343.2 465.4h7.6M347.0 461.6v7.6M341.3 464.6h7.6M345.1 460.8v7.6M363.4 428.5h7.6M367.2 424.7v7.6M363.5 427.5h7.6M367.3 423.7v7.6M367.8 436.3h7.6M371.6 432.5v7.6M368.7 439.2h7.6M372.5 435.4v7.6M331.0 476.5h7.6M334.8 472.7v7.6M330.3 476.4h7.6M334.1 472.6v7.6M359.8 479.4h7.6M363.6 475.6v7.6M361.8 481.0h7.6M365.6 477.2v7.6M356.2 486.3h7.6M360.0 482.5v7.6M355.7 486.8h7.6M359.5 483.0v7.6M346.6 496.4h7.6M350.4 492.6v7.6M346.3 496.7h7.6M350.1 492.9v7.6M336.8 504.3h7.6M340.6 500.5v7.6M335.0 505.9h7.6M338.8 502.1v7.6M303.5 490.5h7.6M307.3 486.7v7.6M306.7 489.4h7.6M310.5 485.6v7.6M299.5 498.4h7.6M303.3 494.6v7.6M299.5 501.2h7.6M303.3 497.4v7.6M278.3 498.0h7.6M282.1 494.2v7.6M277.9 499.9h7.6M281.7 496.1v7.6M279.2 519.5h7.6M283.0 515.7v7.6M280.9 522.5h7.6M284.7 518.7v7.6M378.9 454.1h7.6M382.7 450.3v7.6M379.7 453.0h7.6M383.5 449.2v7.6M393.0 429.0h7.6M396.8 425.2v7.6M393.1 431.8h7.6M396.9 428.0v7.6M324.6 525.2h7.6M328.4 521.4v7.6M326.6 523.7h7.6M330.4 519.9v7.6M333.8 751.0h7.6M337.6 747.2v7.6M356.2 751.0h7.6M360.0 747.2v7.6" stroke="#b3b3b3" stroke-width="1.5" fill="none" shape-rendering="crispEdges"/><path d="M219.2 656.2h7.6M223.0 652.4v7.6M353.3 683.1h7.6M357.1 679.3v7.6M212.9 635.0h7.6M216.7 631.2v7.6M188.3 676.0h7.6M192.1 672.2v7.6M193.0 683.6h7.6M196.8 679.8v7.6M192.6 698.9h7.6M196.4 695.1v7.6M240.5 618.1h7.6M244.3 614.3v7.6M230.7 634.1h7.6M234.5 630.3v7.6M202.3 668.3h7.6M206.1 664.5v7.6M185.3 723.2h7.6M189.1 719.4v7.6M184.7 740.8h7.6M188.5 737.0v7.6M236.8 607.0h7.6M240.6 603.2v7.6M229.2 641.5h7.6M233.0 637.7v7.6M322.4 706.1h7.6M326.2 702.3v7.6M198.2 674.3h7.6M202.0 670.5v7.6M294.8 736.8h7.6M298.6 733.0v7.6M236.4 619.0h7.6M240.2 615.2v7.6M307.2 730.1h7.6M311.0 726.3v7.6M217.4 631.4h7.6M221.2 627.6v7.6M202.9 651.3h7.6M206.7 647.5v7.6M284.2 738.6h7.6M288.0 734.8v7.6M302.0 739.0h7.6M305.8 735.2v7.6M195.7 676.3h7.6M199.5 672.5v7.6M193.7 748.6h7.6M197.5 744.8v7.6M188.4 701.4h7.6M192.2 697.6v7.6M195.5 737.9h7.6M199.3 734.1v7.6M318.3 706.6h7.6M322.1 702.8v7.6M198.0 719.1h7.6M201.8 715.3v7.6M194.3 720.6h7.6M198.1 716.8v7.6M300.5 735.2h7.6M304.3 731.4v7.6M221.1 631.7h7.6M224.9 627.9v7.6M195.2 692.7h7.6M199.0 688.9v7.6M198.2 715.7h7.6M202.0 711.9v7.6M369.9 676.6h7.6M373.7 672.8v7.6M392.2 648.3h7.6M396.0 644.5v7.6M223.6 638.6h7.6M227.4 634.8v7.6M189.3 714.3h7.6M193.1 710.5v7.6M374.6 666.7h7.6M378.4 662.9v7.6M210.1 642.9h7.6M213.9 639.1v7.6M307.3 727.5h7.6M311.1 723.7v7.6M210.7 643.0h7.6M214.5 639.2v7.6M201.9 714.1h7.6M205.7 710.3v7.6M385.2 648.8h7.6M389.0 645.0v7.6M304.2 726.2h7.6M308.0 722.4v7.6M186.7 685.5h7.6M190.5 681.7v7.6M321.1 698.1h7.6M324.9 694.3v7.6M188.3 702.1h7.6M192.1 698.3v7.6M228.5 618.5h7.6M232.3 614.7v7.6M226.2 746.1h7.6M230.0 742.3v7.6M379.9 668.2h7.6M383.7 664.4v7.6M230.8 631.8h7.6M234.6 628.0v7.6M249.5 605.9h7.6M253.3 602.1v7.6M250.9 747.5h7.6M254.7 743.7v7.6M230.9 618.5h7.6M234.7 614.7v7.6M266.2 750.3h7.6M270.0 746.5v7.6M356.3 672.6h7.6M360.1 668.8v7.6M181.0 729.5h7.6M184.8 725.7v7.6M199.2 665.5h7.6M203.0 661.7v7.6M293.6 734.9h7.6M297.4 731.1v7.6M377.3 665.1h7.6M381.1 661.3v7.6M227.4 614.5h7.6M231.2 610.7v7.6M222.0 747.8h7.6M225.8 744.0v7.6M287.2 742.1h7.6M291.0 738.3v7.6M370.4 650.1h7.6M374.2 646.3v7.6M306.4 725.1h7.6M310.2 721.3v7.6M202.6 750.4h7.6M206.4 746.6v7.6M200.6 669.2h7.6M204.4 665.4v7.6M192.5 701.4h7.6M196.3 697.6v7.6M190.3 726.7h7.6M194.1 722.9v7.6M350.8 686.8h7.6M354.6 683.0v7.6M181.1 716.4h7.6M184.9 712.6v7.6M196.7 731.6h7.6M200.5 727.8v7.6M203.0 735.7h7.6M206.8 731.9v7.6M332.0 691.7h7.6M335.8 687.9v7.6M194.1 721.7h7.6M197.9 717.9v7.6M318.3 711.9h7.6M322.1 708.1v7.6M365.7 664.6h7.6M369.5 660.8v7.6M220.0 636.3h7.6M223.8 632.5v7.6M203.7 668.8h7.6M207.5 665.0v7.6M197.4 703.4h7.6M201.2 699.6v7.6M332.0 703.2h7.6M335.8 699.4v7.6M230.7 628.5h7.6M234.5 624.7v7.6M324.4 692.9h7.6M328.2 689.1v7.6M216.7 623.5h7.6M220.5 619.7v7.6M201.9 743.4h7.6M205.7 739.6v7.6M210.7 661.2h7.6M214.5 657.4v7.6M348.8 683.3h7.6M352.6 679.5v7.6M366.0 678.6h7.6M369.8 674.8v7.6M350.6 686.3h7.6M354.4 682.5v7.6M286.7 746.2h7.6M290.5 742.4v7.6M201.8 654.6h7.6M205.6 650.8v7.6M206.4 748.4h7.6M210.2 744.6v7.6M239.6 614.5h7.6M243.4 610.7v7.6M192.2 712.6h7.6M196.0 708.8v7.6M182.2 741.0h7.6M186.0 737.2v7.6M312.6 701.9h7.6M316.4 698.1v7.6M181.1 715.5h7.6M184.9 711.7v7.6M251.9 747.8h7.6M255.7 744.0v7.6M225.7 622.7h7.6M229.5 618.9v7.6M290.4 746.3h7.6M294.2 742.5v7.6M322.7 704.4h7.6M326.5 700.6v7.6M318.4 702.6h7.6M322.2 698.8v7.6M188.5 688.5h7.6M192.3 684.7v7.6M373.2 647.9h7.6M377.0 644.1v7.6M381.0 662.4h7.6M384.8 658.6v7.6M323.5 703.7h7.6M327.3 699.9v7.6M378.5 663.1h7.6M382.3 659.3v7.6M206.3 744.3h7.6M210.1 740.5v7.6M199.0 722.1h7.6M202.8 718.3v7.6M190.7 700.3h7.6M194.5 696.5v7.6M192.9 746.0h7.6M196.7 742.2v7.6M311.2 728.2h7.6M315.0 724.4v7.6M188.9 713.8h7.6M192.7 710.0v7.6M198.9 707.7h7.6M202.7 703.9v7.6M306.3 728.4h7.6M310.1 724.6v7.6M373.1 642.5h7.6M376.9 638.7v7.6M202.9 667.9h7.6M206.7 664.1v7.6M187.0 749.8h7.6M190.8 746.0v7.6M205.9 742.7h7.6M209.7 738.9v7.6M351.5 685.5h7.6M355.3 681.7v7.6M187.6 735.4h7.6M191.4 731.6v7.6M200.9 735.7h7.6M204.7 731.9v7.6M363.7 666.9h7.6M367.5 663.1v7.6M237.9 617.3h7.6M241.7 613.5v7.6M216.4 635.4h7.6M220.2 631.6v7.6M204.6 747.1h7.6M208.4 743.3v7.6M192.1 728.0h7.6M195.9 724.2v7.6M259.3 749.9h7.6M263.1 746.1v7.6M220.3 622.7h7.6M224.1 618.9v7.6M193.1 722.9h7.6M196.9 719.1v7.6M309.0 720.2h7.6M312.8 716.4v7.6M211.9 654.2h7.6M215.7 650.4v7.6M274.9 747.7h7.6M278.7 743.9v7.6M234.2 619.7h7.6M238.0 615.9v7.6M298.2 734.7h7.6M302.0 730.9v7.6M206.0 659.1h7.6M209.8 655.3v7.6M243.9 616.1h7.6M247.7 612.3v7.6M228.1 640.4h7.6M231.9 636.6v7.6M241.9 749.1h7.6M245.7 745.3v7.6M314.4 717.6h7.6M318.2 713.8v7.6M341.1 693.2h7.6M344.9 689.4v7.6M351.2 685.3h7.6M355.0 681.5v7.6M288.5 743.5h7.6M292.3 739.7v7.6M211.4 654.8h7.6M215.2 651.0v7.6M305.1 724.5h7.6M308.9 720.7v7.6M256.9 750.6h7.6M260.7 746.8v7.6M313.6 707.7h7.6M317.4 703.9v7.6M201.4 730.0h7.6M205.2 726.2v7.6M191.6 726.9h7.6M195.4 723.1v7.6M288.0 740.5h7.6M291.8 736.7v7.6M232.8 612.3h7.6M236.6 608.5v7.6M376.3 657.6h7.6M380.1 653.8v7.6M203.5 651.7h7.6M207.3 647.9v7.6M241.4 615.4h7.6M245.2 611.6v7.6M204.9 732.0h7.6M208.7 728.2v7.6M340.1 686.2h7.6M343.9 682.4v7.6M245.9 610.2h7.6M249.7 606.4v7.6M366.3 662.1h7.6M370.1 658.3v7.6M191.6 682.9h7.6M195.4 679.1v7.6M210.7 652.0h7.6M214.5 648.2v7.6M198.0 687.2h7.6M201.8 683.4v7.6M380.6 670.6h7.6M384.4 666.8v7.6M185.7 700.3h7.6M189.5 696.5v7.6M358.8 684.6h7.6M362.6 680.8v7.6M276.5 745.1h7.6M280.3 741.3v7.6M325.2 712.2h7.6M329.0 708.4v7.6M198.3 674.3h7.6M202.1 670.5v7.6M374.2 648.5h7.6M378.0 644.7v7.6M202.0 713.1h7.6M205.8 709.3v7.6M389.5 651.9h7.6M393.3 648.1v7.6M231.5 608.3h7.6M235.3 604.5v7.6M373.9 665.2h7.6M377.7 661.4v7.6M370.3 651.9h7.6M374.1 648.1v7.6M204.4 734.9h7.6M208.2 731.1v7.6M221.9 625.3h7.6M225.7 621.5v7.6M220.2 649.9h7.6M224.0 646.1v7.6M371.0 646.3h7.6M374.8 642.5v7.6M330.4 708.1h7.6M334.2 704.3v7.6M370.5 662.9h7.6M374.3 659.1v7.6M280.1 748.9h7.6M283.9 745.1v7.6M295.1 742.1h7.6M298.9 738.3v7.6M250.3 749.3h7.6M254.1 745.5v7.6M181.3 722.5h7.6M185.1 718.7v7.6M381.0 656.6h7.6M384.8 652.8v7.6M311.4 720.9h7.6M315.2 717.1v7.6M220.8 646.0h7.6M224.6 642.2v7.6M371.0 669.5h7.6M374.8 665.7v7.6M381.9 652.2h7.6M385.7 648.4v7.6M335.1 697.8h7.6M338.9 694.0v7.6M294.0 738.5h7.6M297.8 734.7v7.6M194.0 670.8h7.6M197.8 667.0v7.6M237.0 622.3h7.6M240.8 618.5v7.6M244.9 750.7h7.6M248.7 746.9v7.6M306.3 725.2h7.6M310.1 721.4v7.6M204.1 746.1h7.6M207.9 742.3v7.6M181.8 731.8h7.6M185.6 728.0v7.6M184.1 749.9h7.6M187.9 746.1v7.6M271.3 745.8h7.6M275.1 742.0v7.6M248.7 745.5h7.6M252.5 741.7v7.6M382.3 644.1h7.6M386.1 640.3v7.6M266.1 751.3h7.6M269.9 747.5v7.6M223.6 653.7h7.6M227.4 649.9v7.6M318.7 719.7h7.6M322.5 715.9v7.6M223.8 619.9h7.6M227.6 616.1v7.6M326.2 692.6h7.6M330.0 688.8v7.6M196.6 710.2h7.6M200.4 706.4v7.6M191.7 678.9h7.6M195.5 675.1v7.6M191.7 681.2h7.6M195.5 677.4v7.6M380.6 650.4h7.6M384.4 646.6v7.6M381.2 651.5h7.6M385.0 647.7v7.6M192.1 682.3h7.6M195.9 678.5v7.6M188.8 714.5h7.6M192.6 710.7v7.6M228.5 648.0h7.6M232.3 644.2v7.6M200.9 671.1h7.6M204.7 667.3v7.6M208.5 655.4h7.6M212.3 651.6v7.6M215.5 645.6h7.6M219.3 641.8v7.6M222.9 615.5h7.6M226.7 611.7v7.6M183.0 739.0h7.6M186.8 735.2v7.6M252.0 746.5h7.6M255.8 742.7v7.6M199.9 687.3h7.6M203.7 683.5v7.6M329.4 685.7h7.6M333.2 681.9v7.6M353.1 679.4h7.6M356.9 675.6v7.6M322.3 714.5h7.6M326.1 710.7v7.6M324.1 707.8h7.6M327.9 704.0v7.6M206.1 679.4h7.6M209.9 675.6v7.6M188.8 711.5h7.6M192.6 707.7v7.6M313.0 727.7h7.6M316.8 723.9v7.6M375.0 675.6h7.6M378.8 671.8v7.6M196.3 665.9h7.6M200.1 662.1v7.6M259.2 746.5h7.6M263.0 742.7v7.6M192.2 714.2h7.6M196.0 710.4v7.6M211.3 657.5h7.6M215.1 653.7v7.6M355.6 677.9h7.6M359.4 674.1v7.6M210.3 641.2h7.6M214.1 637.4v7.6M244.7 610.7h7.6M248.5 606.9v7.6M318.9 701.3h7.6M322.7 697.5v7.6M311.5 711.8h7.6M315.3 708.0v7.6M188.4 712.5h7.6M192.2 708.7v7.6M186.4 701.2h7.6M190.2 697.4v7.6M337.6 687.8h7.6M341.4 684.0v7.6M182.5 720.8h7.6M186.3 717.0v7.6M282.7 749.8h7.6M286.5 746.0v7.6M184.3 731.1h7.6M188.1 727.3v7.6M374.0 645.3h7.6M377.8 641.5v7.6M202.4 658.4h7.6M206.2 654.6v7.6M326.7 686.4h7.6M330.5 682.6v7.6M231.8 749.0h7.6M235.6 745.2v7.6M229.7 612.8h7.6M233.5 609.0v7.6M318.2 692.8h7.6M322.0 689.0v7.6M383.0 669.2h7.6M386.8 665.4v7.6M215.3 640.3h7.6M219.1 636.5v7.6M309.6 706.1h7.6M313.4 702.3v7.6M234.3 617.4h7.6M238.1 613.6v7.6M297.3 737.8h7.6M301.1 734.0v7.6M218.2 623.3h7.6M222.0 619.5v7.6M342.7 695.5h7.6M346.5 691.7v7.6M182.9 718.2h7.6M186.7 714.4v7.6M208.1 743.5h7.6M211.9 739.7v7.6M234.7 606.9h7.6M238.5 603.1v7.6M242.0 610.2h7.6M245.8 606.4v7.6M230.1 623.8h7.6M233.9 620.0v7.6M384.3 650.0h7.6M388.1 646.2v7.6M230.8 637.3h7.6M234.6 633.5v7.6M182.5 740.2h7.6M186.3 736.4v7.6M230.6 632.2h7.6M234.4 628.4v7.6M291.5 740.2h7.6M295.3 736.4v7.6M287.2 750.1h7.6M291.0 746.3v7.6M236.0 627.0h7.6M239.8 623.2v7.6M206.0 742.9h7.6M209.8 739.1v7.6M191.0 732.5h7.6M194.8 728.7v7.6M196.3 728.5h7.6M200.1 724.7v7.6M195.7 692.8h7.6M199.5 689.0v7.6M326.6 706.1h7.6M330.4 702.3v7.6M327.8 685.4h7.6M331.6 681.6v7.6M230.6 621.6h7.6M234.4 617.8v7.6M324.6 698.6h7.6M328.4 694.8v7.6M385.6 655.1h7.6M389.4 651.3v7.6M204.7 737.0h7.6M208.5 733.2v7.6M382.7 651.3h7.6M386.5 647.5v7.6M200.3 657.2h7.6M204.1 653.4v7.6M236.2 620.0h7.6M240.0 616.2v7.6M186.5 688.9h7.6M190.3 685.1v7.6M335.3 699.4h7.6M339.1 695.6v7.6M194.7 694.9h7.6M198.5 691.1v7.6M200.2 743.6h7.6M204.0 739.8v7.6M215.5 644.8h7.6M219.3 641.0v7.6M283.0 742.0h7.6M286.8 738.2v7.6M235.5 630.5h7.6M239.3 626.7v7.6M282.9 546.6h7.6M286.7 542.8v7.6M374.2 595.4h7.6M378.0 591.6v7.6M269.7 569.1h7.6M273.5 565.3v7.6M288.7 567.4h7.6M292.5 563.6v7.6M289.3 536.9h7.6M293.1 533.1v7.6M378.5 618.1h7.6M382.3 614.3v7.6M365.5 554.9h7.6M369.3 551.1v7.6M338.0 570.9h7.6M341.8 567.1v7.6M317.5 565.4h7.6M321.3 561.6v7.6M366.8 566.5h7.6M370.6 562.7v7.6M387.4 616.7h7.6M391.2 612.9v7.6M319.0 580.4h7.6M322.8 576.6v7.6M260.6 565.9h7.6M264.4 562.1v7.6M362.6 551.6h7.6M366.4 547.8v7.6M352.9 548.0h7.6M356.7 544.2v7.6M304.0 573.6h7.6M307.8 569.8v7.6M379.8 582.2h7.6M383.6 578.4v7.6M380.6 615.4h7.6M384.4 611.6v7.6M323.5 536.3h7.6M327.3 532.5v7.6M313.9 583.9h7.6M317.7 580.1v7.6M339.6 549.2h7.6M343.4 545.4v7.6M286.5 568.7h7.6M290.3 564.9v7.6M391.0 610.6h7.6M394.8 606.8v7.6M298.3 534.6h7.6M302.1 530.8v7.6M361.2 567.9h7.6M365.0 564.1v7.6M363.5 550.6h7.6M367.3 546.8v7.6M299.0 570.9h7.6M302.8 567.1v7.6M258.4 561.0h7.6M262.2 557.2v7.6M255.8 591.9h7.6M259.6 588.1v7.6M362.3 546.1h7.6M366.1 542.3v7.6M382.5 592.4h7.6M386.3 588.6v7.6M321.1 541.1h7.6M324.9 537.3v7.6M268.5 557.7h7.6M272.3 553.9v7.6M296.7 587.6h7.6M300.5 583.8v7.6M305.1 534.6h7.6M308.9 530.8v7.6M264.6 555.2h7.6M268.4 551.4v7.6M313.6 545.1h7.6M317.4 541.3v7.6M258.5 596.7h7.6M262.3 592.9v7.6M248.0 580.9h7.6M251.8 577.1v7.6M266.0 548.0h7.6M269.8 544.2v7.6M251.3 574.6h7.6M255.1 570.8v7.6M331.3 561.2h7.6M335.1 557.4v7.6M278.4 586.5h7.6M282.2 582.7v7.6M255.2 583.4h7.6M259.0 579.6v7.6M305.6 547.9h7.6M309.4 544.1v7.6M326.8 541.2h7.6M330.6 537.4v7.6M293.7 567.6h7.6M297.5 563.8v7.6M297.5 567.3h7.6M301.3 563.5v7.6M344.0 572.3h7.6M347.8 568.5v7.6M371.8 614.7h7.6M375.6 610.9v7.6M298.8 560.5h7.6M302.6 556.7v7.6M248.5 569.1h7.6M252.3 565.3v7.6M319.3 573.7h7.6M323.1 569.9v7.6M380.3 623.8h7.6M384.1 620.0v7.6M307.1 585.4h7.6M310.9 581.6v7.6M284.4 590.0h7.6M288.2 586.2v7.6M385.8 603.5h7.6M389.6 599.7v7.6M306.6 564.9h7.6M310.4 561.1v7.6M360.7 555.8h7.6M364.5 552.0v7.6M288.0 571.8h7.6M291.8 568.0v7.6M317.5 557.7h7.6M321.3 553.9v7.6M382.5 642.2h7.6M386.3 638.4v7.6M299.1 547.3h7.6M302.9 543.5v7.6M290.6 534.7h7.6M294.4 530.9v7.6M375.9 617.9h7.6M379.7 614.1v7.6M254.8 599.7h7.6M258.6 595.9v7.6M299.2 572.2h7.6M303.0 568.4v7.6M267.5 552.3h7.6M271.3 548.5v7.6M393.8 648.3h7.6M397.6 644.5v7.6M346.7 545.0h7.6M350.5 541.2v7.6M342.3 527.2h7.6M346.1 523.4v7.6M323.9 579.9h7.6M327.7 576.1v7.6M377.4 598.7h7.6M381.2 594.9v7.6M282.1 572.8h7.6M285.9 569.0v7.6M388.3 631.2h7.6M392.1 627.4v7.6M383.3 593.6h7.6M387.1 589.8v7.6M360.7 587.8h7.6M364.5 584.0v7.6M390.4 640.0h7.6M394.2 636.2v7.6M330.8 562.8h7.6M334.6 559.0v7.6M289.0 556.9h7.6M292.8 553.1v7.6M381.4 622.7h7.6M385.2 618.9v7.6M269.0 599.9h7.6M272.8 596.1v7.6M308.7 557.6h7.6M312.5 553.8v7.6M386.0 618.3h7.6M389.8 614.5v7.6M325.8 576.8h7.6M329.6 573.0v7.6M359.2 536.0h7.6M363.0 532.2v7.6M375.7 578.6h7.6M379.5 574.8v7.6M350.3 555.3h7.6M354.1 551.5v7.6M240.2 585.2h7.6M244.0 581.4v7.6M349.5 550.0h7.6M353.3 546.2v7.6M337.7 558.0h7.6M341.5 554.2v7.6M297.8 595.0h7.6M301.6 591.2v7.6M305.9 537.9h7.6M309.7 534.1v7.6M354.3 541.2h7.6M358.1 537.4v7.6M342.1 529.7h7.6M345.9 525.9v7.6M352.7 539.5h7.6M356.5 535.7v7.6M334.6 570.4h7.6M338.4 566.6v7.6M304.4 582.1h7.6M308.2 578.3v7.6M255.7 586.0h7.6M259.5 582.2v7.6M282.0 543.6h7.6M285.8 539.8v7.6M360.7 554.5h7.6M364.5 550.7v7.6M381.8 600.2h7.6M385.6 596.4v7.6M393.1 620.1h7.6M396.9 616.3v7.6M333.6 590.1h7.6M337.4 586.3v7.6M372.8 578.8h7.6M376.6 575.0v7.6M353.5 552.2h7.6M357.3 548.4v7.6M391.5 639.2h7.6M395.3 635.4v7.6M320.1 574.0h7.6M323.9 570.2v7.6M305.4 585.1h7.6M309.2 581.3v7.6M270.0 569.3h7.6M273.8 565.5v7.6M326.3 543.4h7.6M330.1 539.6v7.6M391.2 646.6h7.6M395.0 642.8v7.6M247.7 596.3h7.6M251.5 592.5v7.6M319.0 562.5h7.6M322.8 558.7v7.6M333.3 593.9h7.6M337.1 590.1v7.6M389.1 609.3h7.6M392.9 605.5v7.6M334.1 591.4h7.6M337.9 587.6v7.6M374.1 607.3h7.6M377.9 603.5v7.6M320.0 548.9h7.6M323.8 545.1v7.6M312.0 537.9h7.6M315.8 534.1v7.6M369.6 607.2h7.6M373.4 603.4v7.6M313.4 563.7h7.6M317.2 559.9v7.6M345.2 531.5h7.6M349.0 527.7v7.6M270.4 541.6h7.6M274.2 537.8v7.6M337.5 543.3h7.6M341.3 539.5v7.6M350.2 592.4h7.6M354.0 588.6v7.6M251.1 586.3h7.6M254.9 582.5v7.6M323.7 593.6h7.6M327.5 589.8v7.6M295.4 591.4h7.6M299.2 587.6v7.6M297.1 552.8h7.6M300.9 549.0v7.6M355.6 553.5h7.6M359.4 549.7v7.6M239.3 583.1h7.6M243.1 579.3v7.6M291.0 565.2h7.6M294.8 561.4v7.6M357.1 551.0h7.6M360.9 547.2v7.6M302.4 586.3h7.6M306.2 582.5v7.6M384.8 599.0h7.6M388.6 595.2v7.6M238.7 604.7h7.6M242.5 600.9v7.6M297.3 561.8h7.6M301.1 558.0v7.6M276.6 563.8h7.6M280.4 560.0v7.6M382.4 611.9h7.6M386.2 608.1v7.6M298.2 543.9h7.6M302.0 540.1v7.6M371.5 604.6h7.6M375.3 600.8v7.6M250.5 601.7h7.6M254.3 597.9v7.6M281.8 535.9h7.6M285.6 532.1v7.6M312.5 544.2h7.6M316.3 540.4v7.6M340.3 577.6h7.6M344.1 573.8v7.6M338.9 534.5h7.6M342.7 530.7v7.6M262.1 573.2h7.6M265.9 569.4v7.6M281.8 556.5h7.6M285.6 552.7v7.6M340.5 551.0h7.6M344.3 547.2v7.6M298.5 542.6h7.6M302.3 538.8v7.6M235.4 591.4h7.6M239.2 587.6v7.6M240.6 586.2h7.6M244.4 582.4v7.6M308.6 547.4h7.6M312.4 543.6v7.6M340.4 585.4h7.6M344.2 581.6v7.6M364.7 559.8h7.6M368.5 556.0v7.6M386.6 625.5h7.6M390.4 621.7v7.6M306.0 540.8h7.6M309.8 537.0v7.6M307.8 539.0h7.6M311.6 535.2v7.6M279.5 529.8h7.6M283.3 526.0v7.6M374.5 603.2h7.6M378.3 599.4v7.6M348.6 537.5h7.6M352.4 533.7v7.6M382.2 622.0h7.6M386.0 618.2v7.6M374.6 597.1h7.6M378.4 593.3v7.6M257.5 588.3h7.6M261.3 584.5v7.6M307.7 565.5h7.6M311.5 561.7v7.6M288.5 587.3h7.6M292.3 583.5v7.6M326.1 551.0h7.6M329.9 547.2v7.6M271.7 586.3h7.6M275.5 582.5v7.6M311.3 575.7h7.6M315.1 571.9v7.6M339.4 546.3h7.6M343.2 542.5v7.6M316.2 557.7h7.6M320.0 553.9v7.6M359.9 588.1h7.6M363.7 584.3v7.6M312.5 570.2h7.6M316.3 566.4v7.6M273.9 573.6h7.6M277.7 569.8v7.6M260.4 579.9h7.6M264.2 576.1v7.6M285.8 561.6h7.6M289.6 557.8v7.6M351.5 549.1h7.6M355.3 545.3v7.6M286.2 527.1h7.6M290.0 523.3v7.6M364.0 551.9h7.6M367.8 548.1v7.6M282.1 536.7h7.6M285.9 532.9v7.6M308.5 569.5h7.6M312.3 565.7v7.6M270.4 584.3h7.6M274.2 580.5v7.6M300.0 576.0h7.6M303.8 572.2v7.6M297.9 547.2h7.6M301.7 543.4v7.6M358.4 570.2h7.6M362.2 566.4v7.6M300.1 573.0h7.6M303.9 569.2v7.6M327.3 555.1h7.6M331.1 551.3v7.6M332.5 546.7h7.6M336.3 542.9v7.6M330.1 560.0h7.6M333.9 556.2v7.6M325.7 595.3h7.6M329.5 591.5v7.6M328.5 587.2h7.6M332.3 583.4v7.6M277.6 575.4h7.6M281.4 571.6v7.6M265.7 596.9h7.6M269.5 593.1v7.6M289.1 527.8h7.6M292.9 524.0v7.6M263.0 601.7h7.6M266.8 597.9v7.6M319.1 571.8h7.6M322.9 568.0v7.6M363.1 536.2h7.6M366.9 532.4v7.6M287.7 577.5h7.6M291.5 573.7v7.6M312.0 559.4h7.6M315.8 555.6v7.6M346.0 588.0h7.6M349.8 584.2v7.6M312.5 585.2h7.6M316.3 581.4v7.6M285.7 565.2h7.6M289.5 561.4v7.6M330.8 593.9h7.6M334.6 590.1v7.6M316.3 564.2h7.6M320.1 560.4v7.6M282.4 575.6h7.6M286.2 571.8v7.6M293.5 543.4h7.6M297.3 539.6v7.6M301.3 574.1h7.6M305.1 570.3v7.6M391.3 608.9h7.6M395.1 605.1v7.6M341.4 585.6h7.6M345.2 581.8v7.6M305.8 547.9h7.6M309.6 544.1v7.6M344.6 555.6h7.6M348.4 551.8v7.6M336.0 540.1h7.6M339.8 536.3v7.6M330.4 544.6h7.6M334.2 540.8v7.6M312.3 562.5h7.6M316.1 558.7v7.6M319.5 539.9h7.6M323.3 536.1v7.6M341.9 591.8h7.6M345.7 588.0v7.6M323.2 551.0h7.6M327.0 547.2v7.6M286.8 579.5h7.6M290.6 575.7v7.6M392.9 626.5h7.6M396.7 622.7v7.6M337.4 536.4h7.6M341.2 532.6v7.6M330.2 527.2h7.6M334.0 523.4v7.6M350.6 556.7h7.6M354.4 552.9v7.6M368.1 588.6h7.6M371.9 584.8v7.6M343.7 590.1h7.6M347.5 586.3v7.6M332.4 538.2h7.6M336.2 534.4v7.6M381.6 632.5h7.6M385.4 628.7v7.6M362.4 558.4h7.6M366.2 554.6v7.6M385.3 625.1h7.6M389.1 621.3v7.6M351.3 551.7h7.6M355.1 547.9v7.6M345.6 581.4h7.6M349.4 577.6v7.6M360.7 580.4h7.6M364.5 576.6v7.6M344.8 572.9h7.6M348.6 569.1v7.6M262.3 550.4h7.6M266.1 546.6v7.6M312.4 586.1h7.6M316.2 582.3v7.6M285.6 549.4h7.6M289.4 545.6v7.6M338.3 574.1h7.6M342.1 570.3v7.6M315.0 542.4h7.6M318.8 538.6v7.6M334.4 583.7h7.6M338.2 579.9v7.6M289.1 595.9h7.6M292.9 592.1v7.6M261.2 578.1h7.6M265.0 574.3v7.6M332.7 538.8h7.6M336.5 535.0v7.6M359.2 559.8h7.6M363.0 556.0v7.6M374.2 622.0h7.6M378.0 618.2v7.6M312.3 541.8h7.6M316.1 538.0v7.6M291.0 541.7h7.6M294.8 537.9v7.6M255.1 595.7h7.6M258.9 591.9v7.6M256.4 582.8h7.6M260.2 579.0v7.6M317.3 578.4h7.6M321.1 574.6v7.6M357.5 594.8h7.6M361.3 591.0v7.6M317.3 550.4h7.6M321.1 546.6v7.6M359.9 561.6h7.6M363.7 557.8v7.6M350.4 551.7h7.6M354.2 547.9v7.6M288.2 583.4h7.6M292.0 579.6v7.6M234.5 604.0h7.6M238.3 600.2v7.6M344.1 542.3h7.6M347.9 538.5v7.6M308.8 554.5h7.6M312.6 550.7v7.6M275.7 581.1h7.6M279.5 577.3v7.6M349.6 537.4h7.6M353.4 533.6v7.6M280.8 536.6h7.6M284.6 532.8v7.6M291.8 562.3h7.6M295.6 558.5v7.6M312.8 578.5h7.6M316.6 574.7v7.6M368.6 582.9h7.6M372.4 579.1v7.6M254.3 574.2h7.6M258.1 570.4v7.6M338.8 593.5h7.6M342.6 589.7v7.6M303.9 595.4h7.6M307.7 591.6v7.6M266.0 593.2h7.6M269.8 589.4v7.6M370.7 582.2h7.6M374.5 578.4v7.6M280.0 598.2h7.6M283.8 594.4v7.6M282.1 539.1h7.6M285.9 535.3v7.6M340.5 559.1h7.6M344.3 555.3v7.6M361.5 561.5h7.6M365.3 557.7v7.6M287.7 545.6h7.6M291.5 541.8v7.6M292.3 586.1h7.6M296.1 582.3v7.6M295.8 538.4h7.6M299.6 534.6v7.6M314.6 560.8h7.6M318.4 557.0v7.6M299.3 551.7h7.6M303.1 547.9v7.6M271.5 542.2h7.6M275.3 538.4v7.6M314.0 576.6h7.6M317.8 572.8v7.6M387.4 636.0h7.6M391.2 632.2v7.6M264.8 593.6h7.6M268.6 589.8v7.6M296.0 527.3h7.6M299.8 523.5v7.6M276.1 596.8h7.6M279.9 593.0v7.6M347.5 530.9h7.6M351.3 527.1v7.6M245.3 582.6h7.6M249.1 578.8v7.6M313.7 540.2h7.6M317.5 536.4v7.6M366.9 575.5h7.6M370.7 571.7v7.6M267.2 553.3h7.6M271.0 549.5v7.6M353.1 535.3h7.6M356.9 531.5v7.6M344.5 597.0h7.6M348.3 593.2v7.6M349.4 558.0h7.6M353.2 554.2v7.6M310.1 546.5h7.6M313.9 542.7v7.6M299.6 558.5h7.6M303.4 554.7v7.6M325.7 560.7h7.6M329.5 556.9v7.6M309.9 551.8h7.6M313.7 548.0v7.6M243.2 587.1h7.6M247.0 583.3v7.6M288.6 574.9h7.6M292.4 571.1v7.6M394.9 635.4h7.6M398.7 631.6v7.6M330.2 548.7h7.6M334.0 544.9v7.6M364.9 593.3h7.6M368.7 589.5v7.6M331.0 547.4h7.6M334.8 543.6v7.6M241.4 582.9h7.6M245.2 579.1v7.6M297.5 570.2h7.6M301.3 566.4v7.6M337.0 573.7h7.6M340.8 569.9v7.6M322.8 587.9h7.6M326.6 584.1v7.6M392.0 620.9h7.6M395.8 617.1v7.6M387.4 627.9h7.6M391.2 624.1v7.6M361.0 582.8h7.6M364.8 579.0v7.6M277.8 569.4h7.6M281.6 565.6v7.6M371.0 607.3h7.6M374.8 603.5v7.6M322.6 549.7h7.6M326.4 545.9v7.6M282.0 535.9h7.6M285.8 532.1v7.6M276.1 556.7h7.6M279.9 552.9v7.6M299.4 570.8h7.6M303.2 567.0v7.6M325.0 586.5h7.6M328.8 582.7v7.6M266.2 559.1h7.6M270.0 555.3v7.6M250.1 591.0h7.6M253.9 587.2v7.6M269.7 573.3h7.6M273.5 569.5v7.6M384.5 625.3h7.6M388.3 621.5v7.6M322.3 564.1h7.6M326.1 560.3v7.6M387.2 620.9h7.6M391.0 617.1v7.6M301.1 581.1h7.6M304.9 577.3v7.6M356.1 563.0h7.6M359.9 559.2v7.6M242.3 601.0h7.6M246.1 597.2v7.6M364.8 554.3h7.6M368.6 550.5v7.6M309.4 565.1h7.6M313.2 561.3v7.6M333.7 544.8h7.6M337.5 541.0v7.6M359.6 596.8h7.6M363.4 593.0v7.6M264.7 561.4h7.6M268.5 557.6v7.6M309.2 572.7h7.6M313.0 568.9v7.6M336.1 586.6h7.6M339.9 582.8v7.6M279.7 599.4h7.6M283.5 595.6v7.6M369.7 596.8h7.6M373.5 593.0v7.6M290.3 555.9h7.6M294.1 552.1v7.6M331.8 531.2h7.6M335.6 527.4v7.6M318.1 570.3h7.6M321.9 566.5v7.6M309.2 573.9h7.6M313.0 570.1v7.6M363.2 598.3h7.6M367.0 594.5v7.6M243.4 598.4h7.6M247.2 594.6v7.6M355.9 528.8h7.6M359.7 525.0v7.6M376.9 606.7h7.6M380.7 602.9v7.6M266.4 595.6h7.6M270.2 591.8v7.6M289.4 560.3h7.6M293.2 556.5v7.6M356.4 600.6h7.6M360.2 596.8v7.6M281.2 591.4h7.6M285.0 587.6v7.6M385.7 594.4h7.6M389.5 590.6v7.6M383.1 594.3h7.6M386.9 590.5v7.6M303.6 592.5h7.6M307.4 588.7v7.6M332.2 583.2h7.6M336.0 579.4v7.6M334.2 590.2h7.6M338.0 586.4v7.6M361.5 526.9h7.6M365.3 523.1v7.6M264.8 571.0h7.6M268.6 567.2v7.6M280.1 596.9h7.6M283.9 593.1v7.6M390.2 621.1h7.6M394.0 617.3v7.6M313.5 571.6h7.6M317.3 567.8v7.6M253.7 593.3h7.6M257.5 589.5v7.6M292.6 592.0h7.6M296.4 588.2v7.6M280.8 542.6h7.6M284.6 538.8v7.6M345.8 596.1h7.6M349.6 592.3v7.6M311.9 541.0h7.6M315.7 537.2v7.6M365.0 551.8h7.6M368.8 548.0v7.6M322.4 557.7h7.6M326.2 553.9v7.6M267.2 591.3h7.6M271.0 587.5v7.6M357.3 561.6h7.6M361.1 557.8v7.6M358.2 581.8h7.6M362.0 578.0v7.6M294.7 579.6h7.6M298.5 575.8v7.6M274.4 558.5h7.6M278.2 554.7v7.6M352.5 550.0h7.6M356.3 546.2v7.6M280.1 558.6h7.6M283.9 554.8v7.6M374.4 603.4h7.6M378.2 599.6v7.6M307.3 570.8h7.6M311.1 567.0v7.6M384.5 641.3h7.6M388.3 637.5v7.6M301.8 594.4h7.6M305.6 590.6v7.6M250.5 577.4h7.6M254.3 573.6v7.6M244.7 603.1h7.6M248.5 599.3v7.6M338.7 561.7h7.6M342.5 557.9v7.6M313.3 559.2h7.6M317.1 555.4v7.6M301.2 581.9h7.6M305.0 578.1v7.6M382.8 637.1h7.6M386.6 633.3v7.6M384.4 603.6h7.6M388.2 599.8v7.6M375.9 575.0h7.6M379.7 571.2v7.6M305.1 574.8h7.6M308.9 571.0v7.6M351.1 534.2h7.6M354.9 530.4v7.6M288.8 575.2h7.6M292.6 571.4v7.6M388.6 602.7h7.6M392.4 598.9v7.6M287.1 536.5h7.6M290.9 532.7v7.6M325.2 579.3h7.6M329.0 575.5v7.6M284.6 575.6h7.6M288.4 571.8v7.6M326.6 591.3h7.6M330.4 587.5v7.6M297.7 554.5h7.6M301.5 550.7v7.6M278.3 585.1h7.6M282.1 581.3v7.6M321.7 549.1h7.6M325.5 545.3v7.6M359.7 578.6h7.6M363.5 574.8v7.6M317.2 590.1h7.6M321.0 586.3v7.6M366.7 561.0h7.6M370.5 557.2v7.6M234.8 592.7h7.6M238.6 588.9v7.6M337.7 551.2h7.6M341.5 547.4v7.6M332.6 558.1h7.6M336.4 554.3v7.6M301.1 552.3h7.6M304.9 548.5v7.6M365.9 580.1h7.6M369.7 576.3v7.6M348.4 566.8h7.6M352.2 563.0v7.6M364.4 598.0h7.6M368.2 594.2v7.6M337.6 572.4h7.6M341.4 568.6v7.6M321.5 547.0h7.6M325.3 543.2v7.6M375.2 621.5h7.6M379.0 617.7v7.6M349.0 561.0h7.6M352.8 557.2v7.6M318.6 571.9h7.6M322.4 568.1v7.6M357.9 562.7h7.6M361.7 558.9v7.6M308.8 527.6h7.6M312.6 523.8v7.6M358.1 550.5h7.6M361.9 546.7v7.6M340.2 548.9h7.6M344.0 545.1v7.6M350.7 547.9h7.6M354.5 544.1v7.6M277.5 566.2h7.6M281.3 562.4v7.6M350.8 595.7h7.6M354.6 591.9v7.6M267.2 587.8h7.6M271.0 584.0v7.6M321.4 555.1h7.6M325.2 551.3v7.6M389.4 643.4h7.6M393.2 639.6v7.6M279.3 548.0h7.6M283.1 544.2v7.6M287.4 538.1h7.6M291.2 534.3v7.6M324.4 579.2h7.6M328.2 575.4v7.6M276.5 589.2h7.6M280.3 585.4v7.6M361.7 593.7h7.6M365.5 589.9v7.6M306.4 564.5h7.6M310.2 560.7v7.6M329.6 535.4h7.6M333.4 531.6v7.6M385.2 634.7h7.6M389.0 630.9v7.6M264.8 590.4h7.6M268.6 586.6v7.6M369.2 567.1h7.6M373.0 563.3v7.6M256.8 601.9h7.6M260.6 598.1v7.6M315.6 545.0h7.6M319.4 541.2v7.6M362.3 535.1h7.6M366.1 531.3v7.6M357.0 582.2h7.6M360.8 578.4v7.6M328.3 535.6h7.6M332.1 531.8v7.6M275.8 591.6h7.6M279.6 587.8v7.6M341.7 576.5h7.6M345.5 572.7v7.6M393.7 642.2h7.6M397.5 638.4v7.6M380.3 606.7h7.6M384.1 602.9v7.6M325.2 539.5h7.6M329.0 535.7v7.6M309.4 584.8h7.6M313.2 581.0v7.6M248.5 587.5h7.6M252.3 583.7v7.6M376.5 575.9h7.6M380.3 572.1v7.6M269.7 553.1h7.6M273.5 549.3v7.6M312.7 587.5h7.6M316.5 583.7v7.6M277.9 538.6h7.6M281.7 534.8v7.6M296.3 527.4h7.6M300.1 523.6v7.6M377.0 610.8h7.6M380.8 607.0v7.6M259.2 592.9h7.6M263.0 589.1v7.6M252.5 566.3h7.6M256.3 562.5v7.6M313.4 593.8h7.6M317.2 590.0v7.6M384.4 604.6h7.6M388.2 600.8v7.6M338.0 597.1h7.6M341.8 593.3v7.6M323.4 539.2h7.6M327.2 535.4v7.6M297.7 576.0h7.6M301.5 572.2v7.6M298.8 593.6h7.6M302.6 589.8v7.6M286.4 572.2h7.6M290.2 568.4v7.6M297.8 569.8h7.6M301.6 566.0v7.6M292.3 579.5h7.6M296.1 575.7v7.6M326.7 569.2h7.6M330.5 565.4v7.6M273.2 581.6h7.6M277.0 577.8v7.6M279.8 530.3h7.6M283.6 526.5v7.6M379.4 628.3h7.6M383.2 624.5v7.6M265.3 555.1h7.6M269.1 551.3v7.6M305.3 571.8h7.6M309.1 568.0v7.6M243.1 597.8h7.6M246.9 594.0v7.6M303.5 541.3h7.6M307.3 537.5v7.6M339.7 582.6h7.6M343.5 578.8v7.6M379.2 640.4h7.6M383.0 636.6v7.6M331.1 535.6h7.6M334.9 531.8v7.6M326.2 576.0h7.6M330.0 572.2v7.6M351.0 538.3h7.6M354.8 534.5v7.6M263.2 566.1h7.6M267.0 562.3v7.6M323.4 563.9h7.6M327.2 560.1v7.6M329.2 536.9h7.6M333.0 533.1v7.6M334.8 566.1h7.6M338.6 562.3v7.6M321.2 544.5h7.6M325.0 540.7v7.6M380.8 587.9h7.6M384.6 584.1v7.6M267.7 596.8h7.6M271.5 593.0v7.6M281.3 572.7h7.6M285.1 568.9v7.6M356.1 573.8h7.6M359.9 570.0v7.6M306.3 572.9h7.6M310.1 569.1v7.6M289.9 557.2h7.6M293.7 553.4v7.6M303.8 589.3h7.6M307.6 585.5v7.6M347.6 577.5h7.6M351.4 573.7v7.6M319.4 564.1h7.6M323.2 560.3v7.6M266.6 559.7h7.6M270.4 555.9v7.6M272.1 566.6h7.6M275.9 562.8v7.6M337.6 537.3h7.6M341.4 533.5v7.6M268.3 589.5h7.6M272.1 585.7v7.6M367.0 596.7h7.6M370.8 592.9v7.6M298.3 553.5h7.6M302.1 549.7v7.6M395.0 617.8h7.6M398.8 614.0v7.6M282.9 528.8h7.6M286.7 525.0v7.6M337.5 567.9h7.6M341.3 564.1v7.6M272.5 557.3h7.6M276.3 553.5v7.6M230.7 600.1h7.6M234.5 596.3v7.6M284.4 546.5h7.6M288.2 542.7v7.6M266.5 543.7h7.6M270.3 539.9v7.6M312.5 545.6h7.6M316.3 541.8v7.6M313.1 583.0h7.6M316.9 579.2v7.6M379.6 582.0h7.6M383.4 578.2v7.6M248.2 598.8h7.6M252.0 595.0v7.6M360.0 539.2h7.6M363.8 535.4v7.6M343.8 536.7h7.6M347.6 532.9v7.6M294.6 542.6h7.6M298.4 538.8v7.6M338.5 563.2h7.6M342.3 559.4v7.6M293.6 539.0h7.6M297.4 535.2v7.6M290.5 592.4h7.6M294.3 588.6v7.6M319.8 573.8h7.6M323.6 570.0v7.6M363.2 534.1h7.6M367.0 530.3v7.6M357.1 590.5h7.6M360.9 586.7v7.6M361.0 595.1h7.6M364.8 591.3v7.6M279.5 574.3h7.6M283.3 570.5v7.6M317.3 535.7h7.6M321.1 531.9v7.6M278.7 541.3h7.6M282.5 537.5v7.6M288.2 566.2h7.6M292.0 562.4v7.6M282.6 563.4h7.6M286.4 559.6v7.6M344.5 573.8h7.6M348.3 570.0v7.6M373.9 618.7h7.6M377.7 614.9v7.6M320.3 568.6h7.6M324.1 564.8v7.6M363.3 561.4h7.6M367.1 557.6v7.6M364.9 589.6h7.6M368.7 585.8v7.6M320.1 590.9h7.6M323.9 587.1v7.6M294.9 593.2h7.6M298.7 589.4v7.6M359.5 542.2h7.6M363.3 538.4v7.6M250.5 589.4h7.6M254.3 585.6v7.6M380.8 617.1h7.6M384.6 613.3v7.6M292.8 583.3h7.6M296.6 579.5v7.6M343.0 579.7h7.6M346.8 575.9v7.6M348.1 584.6h7.6M351.9 580.8v7.6M367.3 569.9h7.6M371.1 566.1v7.6M236.5 594.8h7.6M240.3 591.0v7.6M279.5 555.9h7.6M283.3 552.1v7.6M301.5 532.8h7.6M305.3 529.0v7.6M382.2 628.5h7.6M386.0 624.7v7.6M320.9 579.0h7.6M324.7 575.2v7.6M277.1 598.9h7.6M280.9 595.1v7.6M390.5 614.5h7.6M394.3 610.7v7.6M245.2 576.2h7.6M249.0 572.4v7.6M395.8 628.1h7.6M399.6 624.3v7.6M315.6 560.8h7.6M319.4 557.0v7.6M341.1 593.6h7.6M344.9 589.8v7.6M327.7 560.8h7.6M331.5 557.0v7.6M348.2 582.3h7.6M352.0 578.5v7.6M304.3 559.0h7.6M308.1 555.2v7.6M331.0 546.4h7.6M334.8 542.6v7.6M259.6 731.5h7.6M263.4 727.7v7.6M231.0 739.9h7.6M234.8 736.1v7.6M211.1 677.4h7.6M214.9 673.6v7.6M365.0 612.4h7.6M368.8 608.6v7.6M265.8 744.8h7.6M269.6 741.0v7.6M362.1 607.6h7.6M365.9 603.8v7.6M298.5 722.6h7.6M302.3 718.8v7.6M362.5 662.0h7.6M366.3 658.2v7.6M228.6 656.5h7.6M232.4 652.7v7.6M279.8 732.9h7.6M283.6 729.1v7.6M296.9 729.7h7.6M300.7 725.9v7.6M235.8 648.1h7.6M239.6 644.3v7.6M369.1 650.0h7.6M372.9 646.2v7.6M288.2 602.4h7.6M292.0 598.6v7.6M247.1 733.3h7.6M250.9 729.5v7.6M293.7 599.9h7.6M297.5 596.1v7.6M211.9 741.8h7.6M215.7 738.0v7.6M329.9 681.8h7.6M333.7 678.0v7.6M254.9 615.3h7.6M258.7 611.5v7.6M208.6 703.1h7.6M212.4 699.3v7.6M284.9 731.6h7.6M288.7 727.8v7.6M303.1 713.2h7.6M306.9 709.4v7.6M358.7 664.7h7.6M362.5 660.9v7.6M308.9 696.7h7.6M312.7 692.9v7.6M310.7 688.8h7.6M314.5 685.0v7.6M266.6 607.2h7.6M270.4 603.4v7.6M230.3 648.2h7.6M234.1 644.4v7.6M267.2 735.5h7.6M271.0 731.7v7.6M312.8 691.3h7.6M316.6 687.5v7.6M292.4 723.3h7.6M296.2 719.5v7.6M366.7 655.5h7.6M370.5 651.7v7.6M335.6 676.7h7.6M339.4 672.9v7.6M254.3 612.6h7.6M258.1 608.8v7.6M313.1 685.0h7.6M316.9 681.2v7.6M250.0 732.9h7.6M253.8 729.1v7.6M357.1 667.7h7.6M360.9 663.9v7.6M245.4 619.3h7.6M249.2 615.5v7.6M287.5 604.4h7.6M291.3 600.6v7.6M246.4 733.4h7.6M250.2 729.6v7.6M208.9 726.0h7.6M212.7 722.2v7.6M356.6 663.7h7.6M360.4 659.9v7.6M218.4 664.5h7.6M222.2 660.7v7.6M232.8 638.4h7.6M236.6 634.6v7.6M326.3 602.1h7.6M330.1 598.3v7.6M371.4 635.8h7.6M375.2 632.0v7.6M307.2 597.9h7.6M311.0 594.1v7.6M340.3 677.9h7.6M344.1 674.1v7.6M262.9 739.6h7.6M266.7 735.8v7.6M299.6 723.6h7.6M303.4 719.8v7.6M204.4 723.7h7.6M208.2 719.9v7.6M228.2 651.0h7.6M232.0 647.2v7.6M238.3 635.0h7.6M242.1 631.2v7.6M205.5 691.7h7.6M209.3 687.9v7.6M323.5 685.3h7.6M327.3 681.5v7.6M324.1 598.1h7.6M327.9 594.3v7.6M211.2 679.5h7.6M215.0 675.7v7.6M281.7 603.8h7.6M285.5 600.0v7.6M213.3 725.6h7.6M217.1 721.8v7.6M247.8 740.8h7.6M251.6 737.0v7.6M253.9 609.7h7.6M257.7 605.9v7.6M314.7 686.5h7.6M318.5 682.7v7.6M263.7 608.4h7.6M267.5 604.6v7.6M355.0 607.3h7.6M358.8 603.5v7.6M245.6 630.0h7.6M249.4 626.2v7.6M371.0 637.9h7.6M374.8 634.1v7.6M263.3 608.0h7.6M267.1 604.2v7.6M248.7 734.9h7.6M252.5 731.1v7.6M209.3 722.1h7.6M213.1 718.3v7.6M213.4 730.0h7.6M217.2 726.2v7.6M371.5 625.9h7.6M375.3 622.1v7.6M326.3 678.0h7.6M330.1 674.2v7.6M310.8 696.0h7.6M314.6 692.2v7.6M231.4 647.1h7.6M235.2 643.3v7.6M213.6 737.6h7.6M217.4 733.8v7.6M281.1 738.7h7.6M284.9 734.9v7.6M210.4 735.4h7.6M214.2 731.6v7.6M208.0 693.2h7.6M211.8 689.4v7.6M249.5 738.1h7.6M253.3 734.3v7.6M327.1 602.8h7.6M330.9 599.0v7.6M243.3 624.1h7.6M247.1 620.3v7.6M366.7 652.3h7.6M370.5 648.5v7.6M347.7 600.6h7.6M351.5 596.8v7.6M222.8 741.4h7.6M226.6 737.6v7.6M214.1 669.0h7.6M217.9 665.2v7.6M219.9 667.0h7.6M223.7 663.2v7.6M365.7 654.9h7.6M369.5 651.1v7.6M289.0 603.4h7.6M292.8 599.6v7.6M233.0 735.2h7.6M236.8 731.4v7.6M299.6 599.5h7.6M303.4 595.7v7.6M315.2 687.7h7.6M319.0 683.9v7.6M292.0 598.9h7.6M295.8 595.1v7.6M351.2 603.2h7.6M355.0 599.4v7.6M347.1 667.4h7.6M350.9 663.6v7.6M308.8 702.3h7.6M312.6 698.5v7.6M367.5 640.7h7.6M371.3 636.9v7.6M246.1 731.4h7.6M249.9 727.6v7.6M353.9 601.7h7.6M357.7 597.9v7.6M215.5 727.6h7.6M219.3 723.8v7.6M334.1 677.4h7.6M337.9 673.6v7.6M369.0 627.6h7.6M372.8 623.8v7.6M291.1 603.2h7.6M294.9 599.4v7.6M359.4 662.8h7.6M363.2 659.0v7.6M264.6 737.9h7.6M268.4 734.1v7.6M332.5 598.0h7.6M336.3 594.2v7.6M335.3 681.8h7.6M339.1 678.0v7.6M349.3 672.1h7.6M353.1 668.3v7.6M327.1 683.5h7.6M330.9 679.7v7.6M332.5 599.4h7.6M336.3 595.6v7.6M236.3 631.3h7.6M240.1 627.5v7.6M212.8 718.2h7.6M216.6 714.4v7.6M355.4 607.4h7.6M359.2 603.6v7.6M282.0 730.5h7.6M285.8 726.7v7.6M370.9 627.4h7.6M374.7 623.6v7.6M205.8 715.2h7.6M209.6 711.4v7.6M245.3 734.9h7.6M249.1 731.1v7.6M244.0 738.7h7.6M247.8 734.9v7.6M268.2 741.4h7.6M272.0 737.6v7.6M245.8 738.4h7.6M249.6 734.6v7.6M232.1 743.6h7.6M235.9 739.8v7.6M305.4 713.3h7.6M309.2 709.5v7.6M248.4 624.3h7.6M252.2 620.5v7.6M263.5 730.8h7.6M267.3 727.0v7.6M288.5 599.3h7.6M292.3 595.5v7.6M354.9 603.3h7.6M358.7 599.5v7.6M208.2 738.3h7.6M212.0 734.5v7.6M239.0 732.5h7.6M242.8 728.7v7.6M210.7 728.1h7.6M214.5 724.3v7.6M333.1 675.9h7.6M336.9 672.1v7.6M291.8 725.8h7.6M295.6 722.0v7.6M235.3 647.4h7.6M239.1 643.6v7.6M204.2 721.1h7.6M208.0 717.3v7.6M206.9 678.6h7.6M210.7 674.8v7.6M230.7 733.2h7.6M234.5 729.4v7.6M371.1 620.6h7.6M374.9 616.8v7.6M339.0 677.5h7.6M342.8 673.7v7.6M286.3 601.9h7.6M290.1 598.1v7.6M239.0 643.2h7.6M242.8 639.4v7.6M271.3 728.7h7.6M275.1 724.9v7.6M300.4 708.4h7.6M304.2 704.6v7.6M223.6 744.4h7.6M227.4 740.6v7.6M202.3 689.5h7.6M206.1 685.7v7.6M220.6 729.1h7.6M224.4 725.3v7.6M365.4 647.7h7.6M369.2 643.9v7.6M292.6 601.5h7.6M296.4 597.7v7.6M230.8 649.1h7.6M234.6 645.3v7.6M330.1 600.1h7.6M333.9 596.3v7.6M350.8 602.2h7.6M354.6 598.4v7.6M214.7 674.4h7.6M218.5 670.6v7.6M306.8 698.7h7.6M310.6 694.9v7.6M370.7 634.5h7.6M374.5 630.7v7.6M249.3 622.7h7.6M253.1 618.9v7.6M207.5 691.2h7.6M211.3 687.4v7.6M223.1 664.9h7.6M226.9 661.1v7.6M223.8 661.4h7.6M227.6 657.6v7.6M240.2 629.2h7.6M244.0 625.4v7.6M202.4 702.8h7.6M206.2 699.0v7.6M259.1 744.1h7.6M262.9 740.3v7.6M354.5 603.3h7.6M358.3 599.5v7.6M259.2 734.5h7.6M263.0 730.7v7.6M342.0 604.5h7.6M345.8 600.7v7.6M329.5 682.1h7.6M333.3 678.3v7.6M211.6 734.1h7.6M215.4 730.3v7.6M236.4 634.6h7.6M240.2 630.8v7.6M336.4 675.4h7.6M340.2 671.6v7.6M218.2 733.4h7.6M222.0 729.6v7.6M211.2 733.7h7.6M215.0 729.9v7.6M258.1 744.3h7.6M261.9 740.5v7.6M224.7 731.9h7.6M228.5 728.1v7.6M356.1 607.3h7.6M359.9 603.5v7.6M294.9 721.4h7.6M298.7 717.6v7.6M256.3 733.3h7.6M260.1 729.5v7.6M210.2 676.8h7.6M214.0 673.0v7.6M227.2 741.8h7.6M231.0 738.0v7.6M272.7 601.0h7.6M276.5 597.2v7.6M215.9 742.0h7.6M219.7 738.2v7.6M365.1 649.0h7.6M368.9 645.2v7.6M314.5 597.8h7.6M318.3 594.0v7.6M265.7 737.2h7.6M269.5 733.4v7.6M223.6 660.9h7.6M227.4 657.1v7.6M309.0 600.4h7.6M312.8 596.6v7.6M238.9 744.5h7.6M242.7 740.7v7.6M266.5 730.1h7.6M270.3 726.3v7.6M363.6 606.5h7.6M367.4 602.7v7.6M210.7 743.4h7.6M214.5 739.6v7.6M339.3 679.8h7.6M343.1 676.0v7.6M238.6 634.1h7.6M242.4 630.3v7.6M305.1 598.4h7.6M308.9 594.6v7.6M301.1 719.9h7.6M304.9 716.1v7.6M207.7 682.8h7.6M211.5 679.0v7.6M208.5 696.0h7.6M212.3 692.2v7.6M211.5 734.0h7.6M215.3 730.2v7.6M272.2 605.2h7.6M276.0 601.4v7.6M239.0 631.1h7.6M242.8 627.3v7.6M281.1 737.7h7.6M284.9 733.9v7.6M209.2 699.2h7.6M213.0 695.4v7.6M272.5 742.4h7.6M276.3 738.6v7.6M202.8 717.2h7.6M206.6 713.4v7.6M226.6 656.3h7.6M230.4 652.5v7.6M212.7 739.8h7.6M216.5 736.0v7.6M262.1 741.2h7.6M265.9 737.4v7.6M251.3 737.4h7.6M255.1 733.6v7.6M274.1 741.0h7.6M277.9 737.2v7.6M358.5 608.1h7.6M362.3 604.3v7.6M275.6 742.6h7.6M279.4 738.8v7.6M364.0 652.7h7.6M367.8 648.9v7.6M315.4 600.4h7.6M319.2 596.6v7.6M211.9 677.5h7.6M215.7 673.7v7.6M273.2 744.3h7.6M277.0 740.5v7.6M204.1 695.4h7.6M207.9 691.6v7.6M222.0 737.0h7.6M225.8 733.2v7.6M253.9 735.7h7.6M257.7 731.9v7.6M253.5 729.0h7.6M257.3 725.2v7.6M327.4 681.2h7.6M331.2 677.4v7.6M332.1 677.7h7.6M335.9 673.9v7.6M358.9 603.8h7.6M362.7 600.0v7.6M364.9 612.9h7.6M368.7 609.1v7.6M311.2 692.2h7.6M315.0 688.4v7.6M354.9 604.9h7.6M358.7 601.1v7.6M279.6 604.8h7.6M283.4 601.0v7.6M255.9 608.3h7.6M259.7 604.5v7.6M223.0 730.1h7.6M226.8 726.3v7.6M293.2 721.4h7.6M297.0 717.6v7.6M323.5 680.4h7.6M327.3 676.6v7.6M208.4 681.3h7.6M212.2 677.5v7.6M340.6 677.8h7.6M344.4 674.0v7.6M270.2 743.2h7.6M274.0 739.4v7.6M354.2 606.7h7.6M358.0 602.9v7.6M272.9 606.7h7.6M276.7 602.9v7.6M278.3 601.5h7.6M282.1 597.7v7.6M342.2 676.0h7.6M346.0 672.2v7.6M209.5 725.9h7.6M213.3 722.1v7.6M239.3 638.6h7.6M243.1 634.8v7.6M278.4 728.3h7.6M282.2 724.5v7.6M207.1 692.9h7.6M210.9 689.1v7.6M334.4 675.0h7.6M338.2 671.2v7.6M256.5 743.8h7.6M260.3 740.0v7.6M267.8 738.4h7.6M271.6 734.6v7.6M208.0 728.6h7.6M211.8 724.8v7.6M358.1 657.8h7.6M361.9 654.0v7.6M277.8 601.4h7.6M281.6 597.6v7.6M357.8 604.0h7.6M361.6 600.2v7.6M313.8 691.6h7.6M317.6 687.8v7.6M252.1 612.2h7.6M255.9 608.4v7.6M205.3 716.5h7.6M209.1 712.7v7.6M204.4 683.8h7.6M208.2 680.0v7.6M344.9 676.0h7.6M348.7 672.2v7.6M315.2 598.5h7.6M319.0 594.7v7.6M272.0 737.2h7.6M275.8 733.4v7.6M326.2 678.0h7.6M330.0 674.2v7.6M362.0 652.7h7.6M365.8 648.9v7.6M224.6 737.8h7.6M228.4 734.0v7.6M371.0 628.4h7.6M374.8 624.6v7.6M330.4 678.0h7.6M334.2 674.2v7.6M270.8 606.6h7.6M274.6 602.8v7.6M294.9 729.6h7.6M298.7 725.8v7.6M202.5 710.8h7.6M206.3 707.0v7.6M207.2 725.6h7.6M211.0 721.8v7.6M304.9 711.7h7.6M308.7 707.9v7.6M205.7 721.3h7.6M209.5 717.5v7.6M276.5 734.2h7.6M280.3 730.4v7.6M203.3 687.6h7.6M207.1 683.8v7.6M252.0 735.3h7.6M255.8 731.5v7.6M224.8 657.9h7.6M228.6 654.1v7.6M298.6 712.1h7.6M302.4 708.3v7.6M252.0 612.5h7.6M255.8 608.7v7.6M325.0 679.8h7.6M328.8 676.0v7.6M204.4 704.0h7.6M208.2 700.2v7.6M239.4 738.5h7.6M243.2 734.7v7.6M304.8 697.1h7.6M308.6 693.3v7.6M321.9 681.0h7.6M325.7 677.2v7.6M250.1 732.0h7.6M253.9 728.2v7.6M315.5 597.2h7.6M319.3 593.4v7.6M208.0 718.2h7.6M211.8 714.4v7.6M368.5 610.4h7.6M372.3 606.6v7.6M359.5 605.4h7.6M363.3 601.6v7.6M261.9 738.4h7.6M265.7 734.6v7.6M335.8 681.9h7.6M339.6 678.1v7.6M361.7 661.2h7.6M365.5 657.4v7.6M246.1 729.6h7.6M249.9 725.8v7.6M249.4 735.6h7.6M253.2 731.8v7.6M246.4 625.4h7.6M250.2 621.6v7.6M296.5 717.5h7.6M300.3 713.7v7.6M244.3 734.8h7.6M248.1 731.0v7.6M256.2 609.5h7.6M260.0 605.7v7.6M247.2 728.6h7.6M251.0 724.8v7.6M307.5 705.9h7.6M311.3 702.1v7.6M281.0 734.5h7.6M284.8 730.7v7.6M231.5 658.6h7.6M235.3 654.8v7.6M289.3 733.9h7.6M293.1 730.1v7.6M245.8 616.5h7.6M249.6 612.7v7.6M205.6 681.5h7.6M209.4 677.7v7.6M211.9 725.1h7.6M215.7 721.3v7.6M241.1 730.9h7.6M244.9 727.1v7.6M360.0 660.8h7.6M363.8 657.0v7.6M245.1 625.7h7.6M248.9 621.9v7.6M218.8 731.4h7.6M222.6 727.6v7.6M242.6 632.2h7.6M246.4 628.4v7.6M303.8 598.6h7.6M307.6 594.8v7.6M260.9 609.6h7.6M264.7 605.8v7.6M306.5 710.4h7.6M310.3 706.6v7.6M207.9 712.5h7.6M211.7 708.7v7.6M316.3 685.2h7.6M320.1 681.4v7.6M355.8 665.6h7.6M359.6 661.8v7.6M218.7 667.5h7.6M222.5 663.7v7.6M274.3 742.3h7.6M278.1 738.5v7.6M279.4 740.9h7.6M283.2 737.1v7.6M240.0 641.8h7.6M243.8 638.0v7.6M248.1 625.0h7.6M251.9 621.2v7.6M298.8 717.1h7.6M302.6 713.3v7.6M260.4 731.4h7.6M264.2 727.6v7.6M215.5 670.9h7.6M219.3 667.1v7.6M239.4 633.3h7.6M243.2 629.5v7.6M335.8 675.2h7.6M339.6 671.4v7.6M359.9 609.2h7.6M363.7 605.4v7.6M236.4 739.4h7.6M240.2 735.6v7.6M207.2 710.4h7.6M211.0 706.6v7.6M247.1 621.1h7.6M250.9 617.3v7.6M299.4 726.1h7.6M303.2 722.3v7.6M269.5 733.3h7.6M273.3 729.5v7.6M241.1 636.8h7.6M244.9 633.0v7.6M213.1 730.3h7.6M216.9 726.5v7.6M248.2 741.8h7.6M252.0 738.0v7.6M223.3 730.2h7.6M227.1 726.4v7.6M333.8 679.3h7.6M337.6 675.5v7.6M286.3 599.3h7.6M290.1 595.5v7.6M274.5 744.3h7.6M278.3 740.5v7.6M211.9 725.3h7.6M215.7 721.5v7.6M249.1 614.8h7.6M252.9 611.0v7.6M219.5 670.3h7.6M223.3 666.5v7.6M266.7 602.7h7.6M270.5 598.9v7.6M239.1 743.4h7.6M242.9 739.6v7.6M371.5 623.7h7.6M375.3 619.9v7.6M234.6 647.3h7.6M238.4 643.5v7.6M371.3 615.6h7.6M375.1 611.8v7.6M368.7 645.7h7.6M372.5 641.9v7.6M317.9 601.3h7.6M321.7 597.5v7.6M210.6 707.1h7.6M214.4 703.3v7.6M261.5 607.6h7.6M265.3 603.8v7.6M247.1 743.0h7.6M250.9 739.2v7.6M371.3 643.9h7.6M375.1 640.1v7.6M206.1 713.9h7.6M209.9 710.1v7.6M237.1 738.2h7.6M240.9 734.4v7.6M312.9 601.7h7.6M316.7 597.9v7.6M232.4 728.8h7.6M236.2 725.0v7.6M339.6 599.0h7.6M343.4 595.2v7.6M371.2 625.4h7.6M375.0 621.6v7.6M258.6 735.8h7.6M262.4 732.0v7.6M238.8 627.2h7.6M242.6 623.4v7.6M357.0 659.2h7.6M360.8 655.4v7.6M209.7 722.2h7.6M213.5 718.4v7.6M258.1 612.2h7.6M261.9 608.4v7.6M247.7 617.3h7.6M251.5 613.5v7.6M266.4 742.2h7.6M270.2 738.4v7.6M245.3 729.4h7.6M249.1 725.6v7.6M284.8 731.0h7.6M288.6 727.2v7.6M351.5 670.1h7.6M355.3 666.3v7.6M301.5 721.7h7.6M305.3 717.9v7.6M333.7 676.8h7.6M337.5 673.0v7.6M213.4 720.0h7.6M217.2 716.2v7.6M268.2 604.4h7.6M272.0 600.6v7.6M235.8 632.2h7.6M239.6 628.4v7.6M242.3 636.4h7.6M246.1 632.6v7.6M200.9 696.8h7.6M204.7 693.0v7.6M258.3 612.2h7.6M262.1 608.4v7.6M231.7 729.0h7.6M235.5 725.2v7.6M239.8 728.2h7.6M243.6 724.4v7.6M274.8 738.7h7.6M278.6 734.9v7.6M241.8 740.6h7.6M245.6 736.8v7.6M248.2 623.5h7.6M252.0 619.7v7.6M247.9 744.3h7.6M251.7 740.5v7.6M365.6 649.1h7.6M369.4 645.3v7.6M297.1 723.1h7.6M300.9 719.3v7.6M325.2 597.9h7.6M329.0 594.1v7.6M304.2 711.7h7.6M308.0 707.9v7.6M260.6 608.8h7.6M264.4 605.0v7.6M325.7 678.3h7.6M329.5 674.5v7.6M240.4 638.4h7.6M244.2 634.6v7.6M233.3 654.2h7.6M237.1 650.4v7.6M248.7 729.6h7.6M252.5 725.8v7.6M311.1 686.0h7.6M314.9 682.2v7.6M334.2 599.2h7.6M338.0 595.4v7.6M206.0 713.2h7.6M209.8 709.4v7.6M368.6 634.0h7.6M372.4 630.2v7.6M366.6 640.6h7.6M370.4 636.8v7.6M254.4 734.2h7.6M258.2 730.4v7.6M259.8 604.0h7.6M263.6 600.2v7.6M280.1 737.8h7.6M283.9 734.0v7.6M208.9 701.0h7.6M212.7 697.2v7.6M213.9 742.0h7.6M217.7 738.2v7.6M262.5 607.7h7.6M266.3 603.9v7.6M258.3 740.5h7.6M262.1 736.7v7.6M370.4 646.3h7.6M374.2 642.5v7.6M231.2 732.7h7.6M235.0 728.9v7.6M365.2 660.6h7.6M369.0 656.8v7.6M242.7 744.7h7.6M246.5 740.9v7.6M275.8 730.0h7.6M279.6 726.2v7.6M367.9 617.2h7.6M371.7 613.4v7.6M325.1 599.1h7.6M328.9 595.3v7.6M363.0 604.2h7.6M366.8 600.4v7.6M303.9 701.7h7.6M307.7 697.9v7.6M254.6 738.0h7.6M258.4 734.2v7.6M268.2 739.4h7.6M272.0 735.6v7.6M314.3 599.5h7.6M318.1 595.7v7.6M222.1 735.3h7.6M225.9 731.5v7.6M246.4 619.8h7.6M250.2 616.0v7.6M289.7 730.7h7.6M293.5 726.9v7.6M232.8 653.7h7.6M236.6 649.9v7.6M220.4 667.2h7.6M224.2 663.4v7.6M299.1 710.4h7.6M302.9 706.6v7.6M296.0 728.7h7.6M299.8 724.9v7.6M306.2 699.0h7.6M310.0 695.2v7.6M254.7 612.9h7.6M258.5 609.1v7.6M370.9 629.7h7.6M374.7 625.9v7.6M256.8 744.1h7.6M260.6 740.3v7.6M254.6 613.5h7.6M258.4 609.7v7.6M346.2 601.4h7.6M350.0 597.6v7.6M216.1 730.2h7.6M219.9 726.4v7.6M203.6 700.7h7.6M207.4 696.9v7.6M370.0 638.8h7.6M373.8 635.0v7.6M283.9 729.7h7.6M287.7 725.9v7.6M209.5 708.8h7.6M213.3 705.0v7.6M239.4 635.3h7.6M243.2 631.5v7.6M278.6 601.3h7.6M282.4 597.5v7.6M329.3 683.6h7.6M333.1 679.8v7.6M240.1 744.7h7.6M243.9 740.9v7.6M244.4 617.0h7.6M248.2 613.2v7.6M255.3 740.7h7.6M259.1 736.9v7.6M215.4 725.8h7.6M219.2 722.0v7.6M235.9 643.6h7.6M239.7 639.8v7.6M308.4 693.5h7.6M312.2 689.7v7.6M250.4 618.4h7.6M254.2 614.6v7.6M206.7 701.3h7.6M210.5 697.5v7.6M277.9 738.1h7.6M281.7 734.3v7.6M335.6 678.4h7.6M339.4 674.6v7.6M256.7 615.8h7.6M260.5 612.0v7.6M231.0 730.0h7.6M234.8 726.2v7.6M373.9 625.7h7.6M377.7 621.9v7.6M247.1 736.4h7.6M250.9 732.6v7.6M208.2 740.8h7.6M212.0 737.0v7.6M231.5 655.6h7.6M235.3 651.8v7.6M323.5 599.2h7.6M327.3 595.4v7.6M353.4 606.6h7.6M357.2 602.8v7.6M281.4 735.8h7.6M285.2 732.0v7.6M203.4 700.4h7.6M207.2 696.6v7.6M295.6 727.6h7.6M299.4 723.8v7.6M363.5 604.8h7.6M367.3 601.0v7.6M240.0 744.0h7.6M243.8 740.2v7.6M300.4 716.7h7.6M304.2 712.9v7.6M244.1 744.6h7.6M247.9 740.8v7.6M364.4 660.1h7.6M368.2 656.3v7.6M325.6 684.8h7.6M329.4 681.0v7.6M203.0 687.9h7.6M206.8 684.1v7.6M313.7 690.5h7.6M317.5 686.7v7.6M330.6 681.2h7.6M334.4 677.4v7.6M294.6 718.2h7.6M298.4 714.4v7.6M227.8 734.8h7.6M231.6 731.0v7.6M353.5 669.3h7.6M357.3 665.5v7.6M296.8 599.6h7.6M300.6 595.8v7.6M366.0 640.3h7.6M369.8 636.5v7.6M211.6 723.3h7.6M215.4 719.5v7.6M250.7 740.3h7.6M254.5 736.5v7.6M234.7 743.4h7.6M238.5 739.6v7.6M211.1 743.9h7.6M214.9 740.1v7.6M288.0 732.4h7.6M291.8 728.6v7.6M233.2 653.8h7.6M237.0 650.0v7.6M228.0 735.3h7.6M231.8 731.5v7.6M338.2 677.8h7.6M342.0 674.0v7.6M303.9 602.7h7.6M307.7 598.9v7.6M272.6 741.1h7.6M276.4 737.3v7.6M271.3 602.0h7.6M275.1 598.2v7.6M253.9 617.3h7.6M257.7 613.5v7.6M353.6 667.4h7.6M357.4 663.6v7.6M288.7 602.6h7.6M292.5 598.8v7.6M368.8 634.6h7.6M372.6 630.8v7.6M301.3 719.4h7.6M305.1 715.6v7.6M315.0 597.2h7.6M318.8 593.4v7.6M285.5 603.8h7.6M289.3 600.0v7.6M371.0 626.3h7.6M374.8 622.5v7.6M229.2 649.3h7.6M233.0 645.5v7.6M212.7 720.7h7.6M216.5 716.9v7.6M202.2 699.8h7.6M206.0 696.0v7.6M324.6 683.6h7.6M328.4 679.8v7.6M308.7 598.2h7.6M312.5 594.4v7.6M239.6 635.1h7.6M243.4 631.3v7.6M219.4 734.7h7.6M223.2 730.9v7.6M201.5 705.2h7.6M205.3 701.4v7.6M261.1 735.8h7.6M264.9 732.0v7.6M228.5 660.7h7.6M232.3 656.9v7.6M215.8 674.6h7.6M219.6 670.8v7.6M373.5 631.4h7.6M377.3 627.6v7.6M207.0 710.5h7.6M210.8 706.7v7.6M328.1 677.4h7.6M331.9 673.6v7.6M205.4 701.4h7.6M209.2 697.6v7.6M206.0 682.0h7.6M209.8 678.2v7.6M327.0 681.1h7.6M330.8 677.3v7.6M303.1 600.6h7.6M306.9 596.8v7.6M266.8 730.3h7.6M270.6 726.5v7.6M284.4 600.8h7.6M288.2 597.0v7.6M242.8 632.6h7.6M246.6 628.8v7.6M367.6 644.2h7.6M371.4 640.4v7.6M304.0 714.5h7.6M307.8 710.7v7.6M212.6 716.3h7.6M216.4 712.5v7.6M368.0 653.4h7.6M371.8 649.6v7.6M310.9 698.4h7.6M314.7 694.6v7.6M369.4 644.9h7.6M373.2 641.1v7.6M205.8 694.6h7.6M209.6 690.8v7.6M287.4 728.8h7.6M291.2 725.0v7.6M205.9 709.8h7.6M209.7 706.0v7.6M206.4 685.0h7.6M210.2 681.2v7.6M272.4 601.6h7.6M276.2 597.8v7.6M367.2 617.6h7.6M371.0 613.8v7.6M223.0 666.9h7.6M226.8 663.1v7.6M273.1 603.5h7.6M276.9 599.7v7.6M276.2 606.0h7.6M280.0 602.2v7.6M244.0 630.6h7.6M247.8 626.8v7.6M314.1 688.2h7.6M317.9 684.4v7.6M224.8 664.8h7.6M228.6 661.0v7.6M236.6 737.4h7.6M240.4 733.6v7.6M208.2 703.7h7.6M212.0 699.9v7.6M368.8 640.9h7.6M372.6 637.1v7.6M375.6 629.9h7.6M379.4 626.1v7.6M261.3 733.3h7.6M265.1 729.5v7.6M372.7 622.6h7.6M376.5 618.8v7.6M207.9 717.3h7.6M211.7 713.5v7.6M352.5 605.4h7.6M356.3 601.6v7.6M212.7 728.1h7.6M216.5 724.3v7.6M212.6 728.5h7.6M216.4 724.7v7.6M246.1 737.4h7.6M249.9 733.6v7.6M258.4 744.1h7.6M262.2 740.3v7.6M215.2 742.3h7.6M219.0 738.5v7.6M369.3 621.1h7.6M373.1 617.3v7.6M209.1 702.2h7.6M212.9 698.4v7.6M276.5 733.3h7.6M280.3 729.5v7.6M224.4 734.3h7.6M228.2 730.5v7.6M345.1 677.9h7.6M348.9 674.1v7.6M334.7 598.4h7.6M338.5 594.6v7.6M290.4 600.4h7.6M294.2 596.6v7.6M369.3 644.2h7.6M373.1 640.4v7.6M222.2 664.3h7.6M226.0 660.5v7.6M211.4 714.7h7.6M215.2 710.9v7.6M362.6 658.0h7.6M366.4 654.2v7.6M353.3 603.0h7.6M357.1 599.2v7.6M207.4 710.1h7.6M211.2 706.3v7.6M264.1 741.4h7.6M267.9 737.6v7.6M234.5 653.8h7.6M238.3 650.0v7.6M367.4 609.0h7.6M371.2 605.2v7.6M234.5 653.2h7.6M238.3 649.4v7.6M299.3 723.6h7.6M303.1 719.8v7.6M292.1 722.7h7.6M295.9 718.9v7.6M274.0 729.4h7.6M277.8 725.6v7.6M369.3 630.0h7.6M373.1 626.2v7.6M366.3 605.6h7.6M370.1 601.8v7.6M336.5 599.4h7.6M340.3 595.6v7.6M295.0 728.6h7.6M298.8 724.8v7.6M233.1 647.9h7.6M236.9 644.1v7.6M252.1 616.9h7.6M255.9 613.1v7.6M343.7 503.7h7.6M347.5 499.9v7.6M358.8 473.7h7.6M362.6 469.9v7.6M306.9 506.4h7.6M310.7 502.6v7.6M274.9 477.0h7.6M278.7 473.2v7.6M322.7 495.9h7.6M326.5 492.1v7.6M362.3 466.5h7.6M366.1 462.7v7.6M320.9 478.6h7.6M324.7 474.8v7.6M358.7 481.2h7.6M362.5 477.4v7.6M342.6 458.9h7.6M346.4 455.1v7.6M301.4 476.9h7.6M305.2 473.1v7.6M310.4 463.1h7.6M314.2 459.3v7.6M366.0 471.8h7.6M369.8 468.0v7.6M336.3 456.4h7.6M340.1 452.6v7.6M300.2 509.0h7.6M304.0 505.2v7.6M320.0 458.8h7.6M323.8 455.0v7.6M315.3 486.1h7.6M319.1 482.3v7.6M286.1 477.8h7.6M289.9 474.0v7.6M361.0 477.8h7.6M364.8 474.0v7.6M279.3 519.8h7.6M283.1 516.0v7.6M336.8 477.4h7.6M340.6 473.6v7.6M285.5 496.6h7.6M289.3 492.8v7.6M285.6 479.1h7.6M289.4 475.3v7.6M281.6 474.8h7.6M285.4 471.0v7.6M364.9 491.2h7.6M368.7 487.4v7.6M318.5 493.0h7.6M322.3 489.2v7.6M333.0 491.6h7.6M336.8 487.8v7.6M295.3 456.9h7.6M299.1 453.1v7.6M328.0 520.7h7.6M331.8 516.9v7.6M355.1 481.5h7.6M358.9 477.7v7.6M296.3 490.3h7.6M300.1 486.5v7.6M271.0 482.2h7.6M274.8 478.4v7.6M315.1 492.2h7.6M318.9 488.4v7.6M279.3 481.1h7.6M283.1 477.3v7.6M305.0 501.3h7.6M308.8 497.5v7.6M309.1 454.0h7.6M312.9 450.2v7.6M273.5 505.7h7.6M277.3 501.9v7.6M318.2 485.9h7.6M322.0 482.1v7.6M335.9 505.9h7.6M339.7 502.1v7.6M307.2 470.5h7.6M311.0 466.7v7.6M345.4 479.0h7.6M349.2 475.2v7.6M320.5 460.3h7.6M324.3 456.5v7.6M362.4 465.0h7.6M366.2 461.2v7.6M357.1 511.8h7.6M360.9 508.0v7.6M317.0 513.5h7.6M320.8 509.7v7.6M339.6 482.8h7.6M343.4 479.0v7.6M298.6 461.7h7.6M302.4 457.9v7.6M327.7 479.5h7.6M331.5 475.7v7.6M278.9 481.8h7.6M282.7 478.0v7.6M364.8 516.1h7.6M368.6 512.3v7.6M329.8 514.8h7.6M333.6 511.0v7.6M315.8 482.2h7.6M319.6 478.4v7.6" stroke="#b3b3b3" stroke-width="1.5" fill="none" shape-rendering="crispEdges"/><defs><pattern id="sp" width="47" height="47" patternUnits="userSpaceOnUse"><rect width="47" height="47" fill="#b3b3b3"/><rect x="44" y="5" width="1" height="1" fill="#fff"/><rect x="37" y="32" width="1" height="1" fill="#fff"/><rect x="0" y="31" width="1" height="1" fill="#fff"/><rect x="41" y="15" width="1" height="1" fill="#fff"/><rect x="34" y="3" width="1" height="2" fill="#fff"/><rect x="23" y="6" width="1" height="1" fill="#fff"/><rect x="1" y="19" width="2" height="1" fill="#fff"/><rect x="21" y="23" width="1" height="1" fill="#fff"/><rect x="42" y="21" width="1" height="2" fill="#fff"/><rect x="19" y="30" width="1" height="1" fill="#fff"/></pattern></defs><polygon points="220,728 213,700 213,685 222,672 238,656 246,638 256,620 270,608 300,603 338,603 366,610 373,630 364,656 345,672 314,684 304,708 292,728" fill="url(#sp)"/>
<g font-size="16.6" fill="#000"><text x="140" y="85" text-anchor="end">1,000,000,000,000</text><text x="140" y="197" text-anchor="end">10,000,000,000</text><text x="140" y="309" text-anchor="end">100,000,000</text><text x="140" y="421" text-anchor="end">1,000,000</text><text x="140" y="533" text-anchor="end">10,000</text><text x="140" y="645" text-anchor="end">100</text><text x="140" y="757" text-anchor="end">1</text><text transform="translate(154,773.5) rotate(-45)" text-anchor="end">0.1</text><text transform="translate(265,773.5) rotate(-45)" text-anchor="end">10.0</text><text transform="translate(375,773.5) rotate(-45)" text-anchor="end">1000.0</text><text transform="translate(486,773.5) rotate(-45)" text-anchor="end">100000.0</text><text transform="translate(597,773.5) rotate(-45)" text-anchor="end">10000000.0</text><text transform="translate(708,773.5) rotate(-45)" text-anchor="end">1000000000.0</text><text transform="translate(818,773.5) rotate(-45)" text-anchor="end">100000000000.0</text><text transform="translate(929,773.5) rotate(-45)" text-anchor="end">10000000000000.0</text></g>
<g font-size="13.1" fill="#000"><text transform="translate(704.5,167.7) scale(1,1.1)" xml:space="preserve">Fentanyl-Cost OR23</text><text transform="translate(632.6,242.2) scale(1,1.1)" xml:space="preserve">Cuckoo's Nest Tax OR23</text><text transform="translate(684.6,257.8) scale(1,1.1)" xml:space="preserve">Pb-EXIDE-$ East Los Angeles, CA22</text><text transform="translate(755,269.9) scale(1,1.1)" xml:space="preserve">Pb-EXIDE-$Residential East Los Angeles, CA22</text><text transform="translate(554.1,290.9) scale(1,1.1)" xml:space="preserve">Pb-PAINT-Settlement-LA-CO, CA22</text><text transform="translate(641.8,300.9) scale(1,1.1)" xml:space="preserve">Pb-EXIDE-$Facility East Los Angeles, CA22</text><text transform="translate(684,319.9) scale(1,1.1)" xml:space="preserve">HOMELESS-HUD-GRANT OR24</text><text transform="translate(626,331.7) scale(1,1.1)" xml:space="preserve">Pb-EXIDE-$Parkways East Los Angeles, CA22</text><text transform="translate(754.4,369.9) scale(1,1.1)" xml:space="preserve">Pb-HUD-GRANT OR24-8</text><text transform="translate(429.5,427) scale(1,1.1)" xml:space="preserve">Pb-Millennium-Settlement-LA-CO, CA22</text><text transform="translate(374.2,481.7) scale(1,1.1)" xml:space="preserve">HOMELESS-LA-CO, CA23</text><text transform="translate(385,493.5) scale(1,1.1)" xml:space="preserve">HOMELESS-LA, CA23</text><text transform="translate(371,503.5) scale(1,1.1)" xml:space="preserve">HOMELESS-HISPANIC-LA-CO, CA23</text><text transform="translate(404,507.9) scale(1,1.1)" xml:space="preserve">HOMELESS-BLACK-LA-CO, CA23</text><text transform="translate(380.4,511) scale(1,1.1)" xml:space="preserve">HOMELESS-HISPANIC-LA, CA23</text><text transform="translate(361,516.1) scale(1,1.1)" xml:space="preserve">HOMELESS-OTHER-LA-CO, CA23</text><text transform="translate(418.3,520.4) scale(1,1.1)" xml:space="preserve">HOMELESS-BLACK-LA, CA23</text><text transform="translate(354,524.9) scale(1,1.1)" xml:space="preserve">POLICE-OFFICERS-LA, CA22</text><text transform="translate(369.8,525.5) scale(1,1.1)" xml:space="preserve">HOMELESS-Los Angeles, CA22</text><text transform="translate(348,536.5) scale(1,1.1)" xml:space="preserve">POLICE-OFFICERS-Los Angeles, CA22</text><text transform="translate(413.8,550.1) scale(1,1.1)" xml:space="preserve">Pb-EXIDE-East Los Angeles, CA22</text><text transform="translate(406,567.9) scale(1,1.1)" xml:space="preserve">LA CO-RIP HOMELESS, CA 2023</text><text transform="translate(386.9,587.5) scale(1,1.1)" xml:space="preserve">LA CO-OD-RIP HOMELESS, CA 2023</text><text transform="translate(266,604.5) scale(1,1.1)" xml:space="preserve">TRAFFIC-FATAL-Los Angeles, CA23</text><text transform="translate(266,614.7) scale(1,1.1)" xml:space="preserve">HOM-Los Angeles, CA23</text><text transform="translate(266,626.4) scale(1,1.1)" xml:space="preserve">HOM-Hispanic Los Angeles, CA23</text><text transform="translate(406.5,626.7) scale(1,1.1)" xml:space="preserve">LA SKID ROW-OD-RIP HOMELESS, CA 2021</text><text transform="translate(301,638.7) scale(1,1.1)" xml:space="preserve">HOM-Black  Los Angeles, CA23</text><text transform="translate(394,647.3) scale(1,1.1)" xml:space="preserve">LA SKID ROW-OD-METH-RIP HOMELESS, CA 2021</text><text transform="translate(315.6,650.3) scale(1,1.1)" xml:space="preserve">HOM-Black-M  Los Angeles, CA23</text><text transform="translate(389.5,663.7) scale(1,1.1)" xml:space="preserve">LA SKID ROW-OD-FENT-RIP HOMELESS, CA 2021</text><text transform="translate(331.7,665.8) scale(1,1.1)" xml:space="preserve">HOM HOMELESS-LA, CA 2023</text><text transform="translate(223,676.6) scale(1,1.1)" xml:space="preserve">HOM-Other Los Angeles, CA23</text></g>
<text x="532.6" y="27.5" font-size="21.8" text-anchor="middle">ICESaturn 1984Earth Moda-16 13-o-Pavlov Moda24</text>
<text x="521" y="48" font-size="18" text-anchor="middle">(Homicides to Homicides/100K)</text>
<text x="23" y="51" font-size="14.67">Sample</text>
<text x="425" y="848" font-size="14.67">Samples/100K Sample</text>
</svg>
</body></html>
